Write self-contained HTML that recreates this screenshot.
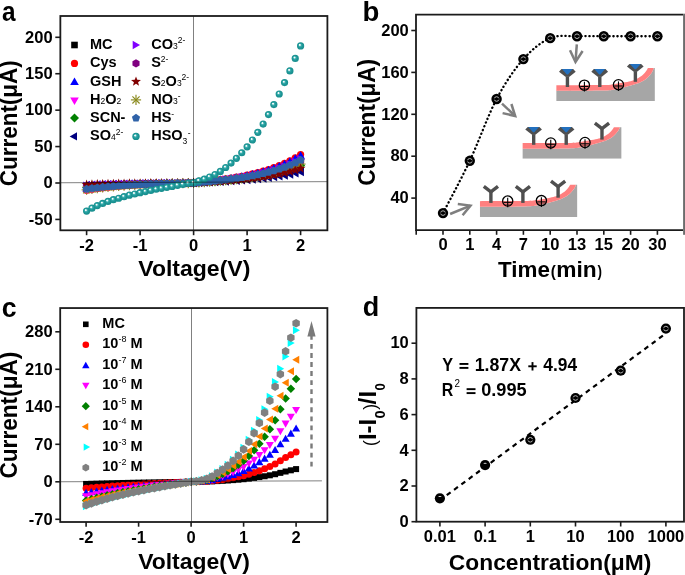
<!DOCTYPE html>
<html><head><meta charset="utf-8"><style>
html,body{margin:0;padding:0;background:#fff;}
svg{display:block;will-change:transform;}
text{font-family:"Liberation Sans", sans-serif;}
</style></head><body>
<svg width="685" height="575" viewBox="0 0 685 575">
<defs>
<radialGradient id="sph" cx="0.5" cy="0.5" r="0.5" fx="0.36" fy="0.33">
<stop offset="0" stop-color="#ffffff"/>
<stop offset="0.16" stop-color="#eef8f8"/>
<stop offset="0.36" stop-color="#3fb0b0"/>
<stop offset="0.6" stop-color="#1f9a9a"/>
<stop offset="1" stop-color="#178c8c"/>
</radialGradient>
</defs>
<rect width="685" height="575" fill="#fff"/>
<text x="1.99" y="20.60" font-size="28" font-weight="bold" textLength="13.56" lengthAdjust="spacingAndGlyphs" >a</text>
<g><rect x="83.35" y="184.12" width="6.50" height="6.50" fill="#000"/><rect x="88.70" y="183.58" width="6.50" height="6.50" fill="#000"/><rect x="94.05" y="183.11" width="6.50" height="6.50" fill="#000"/><rect x="99.40" y="182.69" width="6.50" height="6.50" fill="#000"/><rect x="104.75" y="182.32" width="6.50" height="6.50" fill="#000"/><rect x="110.10" y="182.00" width="6.50" height="6.50" fill="#000"/><rect x="115.45" y="181.71" width="6.50" height="6.50" fill="#000"/><rect x="120.80" y="181.46" width="6.50" height="6.50" fill="#000"/><rect x="126.15" y="181.23" width="6.50" height="6.50" fill="#000"/><rect x="131.50" y="181.04" width="6.50" height="6.50" fill="#000"/><rect x="136.85" y="180.86" width="6.50" height="6.50" fill="#000"/><rect x="142.20" y="180.70" width="6.50" height="6.50" fill="#000"/><rect x="147.55" y="180.56" width="6.50" height="6.50" fill="#000"/><rect x="152.90" y="180.43" width="6.50" height="6.50" fill="#000"/><rect x="158.25" y="180.31" width="6.50" height="6.50" fill="#000"/><rect x="163.60" y="180.20" width="6.50" height="6.50" fill="#000"/><rect x="168.95" y="180.11" width="6.50" height="6.50" fill="#000"/><rect x="174.30" y="180.01" width="6.50" height="6.50" fill="#000"/><rect x="179.65" y="179.92" width="6.50" height="6.50" fill="#000"/><rect x="185.00" y="179.84" width="6.50" height="6.50" fill="#000"/><rect x="190.35" y="179.75" width="6.50" height="6.50" fill="#000"/><rect x="195.70" y="179.40" width="6.50" height="6.50" fill="#000"/><rect x="201.05" y="179.04" width="6.50" height="6.50" fill="#000"/><rect x="206.40" y="178.67" width="6.50" height="6.50" fill="#000"/><rect x="211.75" y="178.29" width="6.50" height="6.50" fill="#000"/><rect x="217.10" y="177.88" width="6.50" height="6.50" fill="#000"/><rect x="222.45" y="177.45" width="6.50" height="6.50" fill="#000"/><rect x="227.80" y="176.99" width="6.50" height="6.50" fill="#000"/><rect x="233.15" y="176.48" width="6.50" height="6.50" fill="#000"/><rect x="238.50" y="175.93" width="6.50" height="6.50" fill="#000"/><rect x="243.85" y="175.32" width="6.50" height="6.50" fill="#000"/><rect x="249.20" y="174.65" width="6.50" height="6.50" fill="#000"/><rect x="254.55" y="173.91" width="6.50" height="6.50" fill="#000"/><rect x="259.90" y="173.08" width="6.50" height="6.50" fill="#000"/><rect x="265.25" y="172.16" width="6.50" height="6.50" fill="#000"/><rect x="270.60" y="171.12" width="6.50" height="6.50" fill="#000"/><rect x="275.95" y="169.97" width="6.50" height="6.50" fill="#000"/><rect x="281.30" y="168.67" width="6.50" height="6.50" fill="#000"/><rect x="286.65" y="167.21" width="6.50" height="6.50" fill="#000"/><rect x="292.00" y="165.57" width="6.50" height="6.50" fill="#000"/><rect x="297.35" y="163.72" width="6.50" height="6.50" fill="#000"/></g>
<g><circle cx="86.60" cy="190.21" r="3.60" fill="#ff0000"/><circle cx="91.95" cy="189.32" r="3.60" fill="#ff0000"/><circle cx="97.30" cy="188.54" r="3.60" fill="#ff0000"/><circle cx="102.65" cy="187.85" r="3.60" fill="#ff0000"/><circle cx="108.00" cy="187.24" r="3.60" fill="#ff0000"/><circle cx="113.35" cy="186.71" r="3.60" fill="#ff0000"/><circle cx="118.70" cy="186.24" r="3.60" fill="#ff0000"/><circle cx="124.05" cy="185.82" r="3.60" fill="#ff0000"/><circle cx="129.40" cy="185.45" r="3.60" fill="#ff0000"/><circle cx="134.75" cy="185.12" r="3.60" fill="#ff0000"/><circle cx="140.10" cy="184.83" r="3.60" fill="#ff0000"/><circle cx="145.45" cy="184.57" r="3.60" fill="#ff0000"/><circle cx="150.80" cy="184.33" r="3.60" fill="#ff0000"/><circle cx="156.15" cy="184.12" r="3.60" fill="#ff0000"/><circle cx="161.50" cy="183.93" r="3.60" fill="#ff0000"/><circle cx="166.85" cy="183.75" r="3.60" fill="#ff0000"/><circle cx="172.20" cy="183.59" r="3.60" fill="#ff0000"/><circle cx="177.55" cy="183.43" r="3.60" fill="#ff0000"/><circle cx="182.90" cy="183.28" r="3.60" fill="#ff0000"/><circle cx="188.25" cy="183.14" r="3.60" fill="#ff0000"/><circle cx="193.60" cy="183.00" r="3.60" fill="#ff0000"/><circle cx="198.95" cy="182.37" r="3.60" fill="#ff0000"/><circle cx="204.30" cy="181.74" r="3.60" fill="#ff0000"/><circle cx="209.65" cy="181.09" r="3.60" fill="#ff0000"/><circle cx="215.00" cy="180.41" r="3.60" fill="#ff0000"/><circle cx="220.35" cy="179.69" r="3.60" fill="#ff0000"/><circle cx="225.70" cy="178.93" r="3.60" fill="#ff0000"/><circle cx="231.05" cy="178.10" r="3.60" fill="#ff0000"/><circle cx="236.40" cy="177.21" r="3.60" fill="#ff0000"/><circle cx="241.75" cy="176.23" r="3.60" fill="#ff0000"/><circle cx="247.10" cy="175.15" r="3.60" fill="#ff0000"/><circle cx="252.45" cy="173.97" r="3.60" fill="#ff0000"/><circle cx="257.80" cy="172.65" r="3.60" fill="#ff0000"/><circle cx="263.15" cy="171.18" r="3.60" fill="#ff0000"/><circle cx="268.50" cy="169.54" r="3.60" fill="#ff0000"/><circle cx="273.85" cy="167.71" r="3.60" fill="#ff0000"/><circle cx="279.20" cy="165.65" r="3.60" fill="#ff0000"/><circle cx="284.55" cy="163.35" r="3.60" fill="#ff0000"/><circle cx="289.90" cy="160.76" r="3.60" fill="#ff0000"/><circle cx="295.25" cy="157.86" r="3.60" fill="#ff0000"/><circle cx="300.60" cy="154.59" r="3.60" fill="#ff0000"/></g>
<g><polygon points="86.60,183.94 90.90,191.51 82.30,191.51" fill="#0000ff" /><polygon points="91.95,183.31 96.25,190.88 87.65,190.88" fill="#0000ff" /><polygon points="97.30,182.75 101.60,190.32 93.00,190.32" fill="#0000ff" /><polygon points="102.65,182.27 106.95,189.84 98.35,189.84" fill="#0000ff" /><polygon points="108.00,181.84 112.30,189.41 103.70,189.41" fill="#0000ff" /><polygon points="113.35,181.46 117.65,189.03 109.05,189.03" fill="#0000ff" /><polygon points="118.70,181.13 123.00,188.69 114.40,188.69" fill="#0000ff" /><polygon points="124.05,180.83 128.35,188.40 119.75,188.40" fill="#0000ff" /><polygon points="129.40,180.57 133.70,188.14 125.10,188.14" fill="#0000ff" /><polygon points="134.75,180.34 139.05,187.91 130.45,187.91" fill="#0000ff" /><polygon points="140.10,180.13 144.40,187.70 135.80,187.70" fill="#0000ff" /><polygon points="145.45,179.95 149.75,187.51 141.15,187.51" fill="#0000ff" /><polygon points="150.80,179.78 155.10,187.35 146.50,187.35" fill="#0000ff" /><polygon points="156.15,179.63 160.45,187.20 151.85,187.20" fill="#0000ff" /><polygon points="161.50,179.49 165.80,187.06 157.20,187.06" fill="#0000ff" /><polygon points="166.85,179.37 171.15,186.94 162.55,186.94" fill="#0000ff" /><polygon points="172.20,179.25 176.50,186.82 167.90,186.82" fill="#0000ff" /><polygon points="177.55,179.14 181.85,186.71 173.25,186.71" fill="#0000ff" /><polygon points="182.90,179.04 187.20,186.61 178.60,186.61" fill="#0000ff" /><polygon points="188.25,178.94 192.55,186.50 183.95,186.50" fill="#0000ff" /><polygon points="193.60,178.84 197.90,186.41 189.30,186.41" fill="#0000ff" /><polygon points="198.95,178.23 203.25,185.80 194.65,185.80" fill="#0000ff" /><polygon points="204.30,177.61 208.60,185.18 200.00,185.18" fill="#0000ff" /><polygon points="209.65,176.97 213.95,184.54 205.35,184.54" fill="#0000ff" /><polygon points="215.00,176.31 219.30,183.88 210.70,183.88" fill="#0000ff" /><polygon points="220.35,175.61 224.65,183.18 216.05,183.18" fill="#0000ff" /><polygon points="225.70,174.87 230.00,182.44 221.40,182.44" fill="#0000ff" /><polygon points="231.05,174.07 235.35,181.63 226.75,181.63" fill="#0000ff" /><polygon points="236.40,173.19 240.70,180.76 232.10,180.76" fill="#0000ff" /><polygon points="241.75,172.24 246.05,179.81 237.45,179.81" fill="#0000ff" /><polygon points="247.10,171.19 251.40,178.76 242.80,178.76" fill="#0000ff" /><polygon points="252.45,170.04 256.75,177.60 248.15,177.60" fill="#0000ff" /><polygon points="257.80,168.75 262.10,176.32 253.50,176.32" fill="#0000ff" /><polygon points="263.15,167.32 267.45,174.89 258.85,174.89" fill="#0000ff" /><polygon points="268.50,165.72 272.80,173.29 264.20,173.29" fill="#0000ff" /><polygon points="273.85,163.94 278.15,171.51 269.55,171.51" fill="#0000ff" /><polygon points="279.20,161.94 283.50,169.50 274.90,169.50" fill="#0000ff" /><polygon points="284.55,159.69 288.85,167.26 280.25,167.26" fill="#0000ff" /><polygon points="289.90,157.17 294.20,164.74 285.60,164.74" fill="#0000ff" /><polygon points="295.25,154.34 299.55,161.91 290.95,161.91" fill="#0000ff" /><polygon points="300.60,151.15 304.90,158.72 296.30,158.72" fill="#0000ff" /></g>
<g><polygon points="86.60,194.67 90.90,187.10 82.30,187.10" fill="#ff00ff" /><polygon points="91.95,193.74 96.25,186.17 87.65,186.17" fill="#ff00ff" /><polygon points="97.30,192.93 101.60,185.36 93.00,185.36" fill="#ff00ff" /><polygon points="102.65,192.21 106.95,184.64 98.35,184.64" fill="#ff00ff" /><polygon points="108.00,191.58 112.30,184.01 103.70,184.01" fill="#ff00ff" /><polygon points="113.35,191.02 117.65,183.45 109.05,183.45" fill="#ff00ff" /><polygon points="118.70,190.53 123.00,182.96 114.40,182.96" fill="#ff00ff" /><polygon points="124.05,190.10 128.35,182.53 119.75,182.53" fill="#ff00ff" /><polygon points="129.40,189.71 133.70,182.14 125.10,182.14" fill="#ff00ff" /><polygon points="134.75,189.37 139.05,181.80 130.45,181.80" fill="#ff00ff" /><polygon points="140.10,189.07 144.40,181.50 135.80,181.50" fill="#ff00ff" /><polygon points="145.45,188.79 149.75,181.23 141.15,181.23" fill="#ff00ff" /><polygon points="150.80,188.55 155.10,180.98 146.50,180.98" fill="#ff00ff" /><polygon points="156.15,188.33 160.45,180.76 151.85,180.76" fill="#ff00ff" /><polygon points="161.50,188.13 165.80,180.56 157.20,180.56" fill="#ff00ff" /><polygon points="166.85,187.94 171.15,180.38 162.55,180.38" fill="#ff00ff" /><polygon points="172.20,187.77 176.50,180.20 167.90,180.20" fill="#ff00ff" /><polygon points="177.55,187.61 181.85,180.04 173.25,180.04" fill="#ff00ff" /><polygon points="182.90,187.46 187.20,179.89 178.60,179.89" fill="#ff00ff" /><polygon points="188.25,187.31 192.55,179.74 183.95,179.74" fill="#ff00ff" /><polygon points="193.60,187.16 197.90,179.59 189.30,179.59" fill="#ff00ff" /><polygon points="198.95,186.70 203.25,179.13 194.65,179.13" fill="#ff00ff" /><polygon points="204.30,186.23 208.60,178.66 200.00,178.66" fill="#ff00ff" /><polygon points="209.65,185.74 213.95,178.17 205.35,178.17" fill="#ff00ff" /><polygon points="215.00,185.24 219.30,177.67 210.70,177.67" fill="#ff00ff" /><polygon points="220.35,184.70 224.65,177.13 216.05,177.13" fill="#ff00ff" /><polygon points="225.70,184.13 230.00,176.56 221.40,176.56" fill="#ff00ff" /><polygon points="231.05,183.52 235.35,175.95 226.75,175.95" fill="#ff00ff" /><polygon points="236.40,182.86 240.70,175.29 232.10,175.29" fill="#ff00ff" /><polygon points="241.75,182.13 246.05,174.56 237.45,174.56" fill="#ff00ff" /><polygon points="247.10,181.33 251.40,173.76 242.80,173.76" fill="#ff00ff" /><polygon points="252.45,180.44 256.75,172.88 248.15,172.88" fill="#ff00ff" /><polygon points="257.80,179.46 262.10,171.90 253.50,171.90" fill="#ff00ff" /><polygon points="263.15,178.37 267.45,170.80 258.85,170.80" fill="#ff00ff" /><polygon points="268.50,177.15 272.80,169.59 264.20,169.59" fill="#ff00ff" /><polygon points="273.85,175.79 278.15,168.22 269.55,168.22" fill="#ff00ff" /><polygon points="279.20,174.26 283.50,166.70 274.90,166.70" fill="#ff00ff" /><polygon points="284.55,172.55 288.85,164.98 280.25,164.98" fill="#ff00ff" /><polygon points="289.90,170.63 294.20,163.06 285.60,163.06" fill="#ff00ff" /><polygon points="295.25,168.47 299.55,160.90 290.95,160.90" fill="#ff00ff" /><polygon points="300.60,166.04 304.90,158.47 296.30,158.47" fill="#ff00ff" /></g>
<g><polygon points="86.60,182.87 91.10,187.37 86.60,191.87 82.10,187.37" fill="#008000" /><polygon points="91.95,182.33 96.45,186.83 91.95,191.33 87.45,186.83" fill="#008000" /><polygon points="97.30,181.86 101.80,186.36 97.30,190.86 92.80,186.36" fill="#008000" /><polygon points="102.65,181.44 107.15,185.94 102.65,190.44 98.15,185.94" fill="#008000" /><polygon points="108.00,181.07 112.50,185.57 108.00,190.07 103.50,185.57" fill="#008000" /><polygon points="113.35,180.75 117.85,185.25 113.35,189.75 108.85,185.25" fill="#008000" /><polygon points="118.70,180.46 123.20,184.96 118.70,189.46 114.20,184.96" fill="#008000" /><polygon points="124.05,180.21 128.55,184.71 124.05,189.21 119.55,184.71" fill="#008000" /><polygon points="129.40,179.98 133.90,184.48 129.40,188.98 124.90,184.48" fill="#008000" /><polygon points="134.75,179.79 139.25,184.29 134.75,188.79 130.25,184.29" fill="#008000" /><polygon points="140.10,179.61 144.60,184.11 140.10,188.61 135.60,184.11" fill="#008000" /><polygon points="145.45,179.45 149.95,183.95 145.45,188.45 140.95,183.95" fill="#008000" /><polygon points="150.80,179.31 155.30,183.81 150.80,188.31 146.30,183.81" fill="#008000" /><polygon points="156.15,179.18 160.65,183.68 156.15,188.18 151.65,183.68" fill="#008000" /><polygon points="161.50,179.06 166.00,183.56 161.50,188.06 157.00,183.56" fill="#008000" /><polygon points="166.85,178.95 171.35,183.45 166.85,187.95 162.35,183.45" fill="#008000" /><polygon points="172.20,178.86 176.70,183.36 172.20,187.86 167.70,183.36" fill="#008000" /><polygon points="177.55,178.76 182.05,183.26 177.55,187.76 173.05,183.26" fill="#008000" /><polygon points="182.90,178.67 187.40,183.17 182.90,187.67 178.40,183.17" fill="#008000" /><polygon points="188.25,178.59 192.75,183.09 188.25,187.59 183.75,183.09" fill="#008000" /><polygon points="193.60,178.50 198.10,183.00 193.60,187.50 189.10,183.00" fill="#008000" /><polygon points="198.95,178.12 203.45,182.62 198.95,187.12 194.45,182.62" fill="#008000" /><polygon points="204.30,177.72 208.80,182.22 204.30,186.72 199.80,182.22" fill="#008000" /><polygon points="209.65,177.32 214.15,181.82 209.65,186.32 205.15,181.82" fill="#008000" /><polygon points="215.00,176.91 219.50,181.41 215.00,185.91 210.50,181.41" fill="#008000" /><polygon points="220.35,176.46 224.85,180.96 220.35,185.46 215.85,180.96" fill="#008000" /><polygon points="225.70,175.99 230.20,180.49 225.70,184.99 221.20,180.49" fill="#008000" /><polygon points="231.05,175.49 235.55,179.99 231.05,184.49 226.55,179.99" fill="#008000" /><polygon points="236.40,174.94 240.90,179.44 236.40,183.94 231.90,179.44" fill="#008000" /><polygon points="241.75,174.33 246.25,178.83 241.75,183.33 237.25,178.83" fill="#008000" /><polygon points="247.10,173.67 251.60,178.17 247.10,182.67 242.60,178.17" fill="#008000" /><polygon points="252.45,172.94 256.95,177.44 252.45,181.94 247.95,177.44" fill="#008000" /><polygon points="257.80,172.13 262.30,176.63 257.80,181.13 253.30,176.63" fill="#008000" /><polygon points="263.15,171.23 267.65,175.73 263.15,180.23 258.65,175.73" fill="#008000" /><polygon points="268.50,170.22 273.00,174.72 268.50,179.22 264.00,174.72" fill="#008000" /><polygon points="273.85,169.09 278.35,173.59 273.85,178.09 269.35,173.59" fill="#008000" /><polygon points="279.20,167.83 283.70,172.33 279.20,176.83 274.70,172.33" fill="#008000" /><polygon points="284.55,166.41 289.05,170.91 284.55,175.41 280.05,170.91" fill="#008000" /><polygon points="289.90,164.82 294.40,169.32 289.90,173.82 285.40,169.32" fill="#008000" /><polygon points="295.25,163.03 299.75,167.53 295.25,172.03 290.75,167.53" fill="#008000" /><polygon points="300.60,161.02 305.10,165.52 300.60,170.02 296.10,165.52" fill="#008000" /></g>
<g><polygon points="82.53,185.04 89.93,180.84 89.93,189.24" fill="#000080" /><polygon points="87.88,184.79 95.28,180.59 95.28,188.99" fill="#000080" /><polygon points="93.23,184.57 100.63,180.37 100.63,188.77" fill="#000080" /><polygon points="98.58,184.37 105.98,180.17 105.98,188.57" fill="#000080" /><polygon points="103.93,184.20 111.33,180.00 111.33,188.40" fill="#000080" /><polygon points="109.28,184.05 116.68,179.85 116.68,188.25" fill="#000080" /><polygon points="114.63,183.92 122.03,179.72 122.03,188.12" fill="#000080" /><polygon points="119.98,183.80 127.38,179.60 127.38,188.00" fill="#000080" /><polygon points="125.33,183.69 132.73,179.49 132.73,187.89" fill="#000080" /><polygon points="130.68,183.60 138.08,179.40 138.08,187.80" fill="#000080" /><polygon points="136.03,183.52 143.43,179.32 143.43,187.72" fill="#000080" /><polygon points="141.38,183.44 148.78,179.24 148.78,187.64" fill="#000080" /><polygon points="146.73,183.38 154.13,179.18 154.13,187.58" fill="#000080" /><polygon points="152.08,183.32 159.48,179.12 159.48,187.52" fill="#000080" /><polygon points="157.43,183.26 164.83,179.06 164.83,187.46" fill="#000080" /><polygon points="162.78,183.21 170.18,179.01 170.18,187.41" fill="#000080" /><polygon points="168.13,183.17 175.53,178.97 175.53,187.37" fill="#000080" /><polygon points="173.48,183.12 180.88,178.92 180.88,187.32" fill="#000080" /><polygon points="178.83,183.08 186.23,178.88 186.23,187.28" fill="#000080" /><polygon points="184.18,183.04 191.58,178.84 191.58,187.24" fill="#000080" /><polygon points="189.53,183.00 196.93,178.80 196.93,187.20" fill="#000080" /><polygon points="194.88,182.76 202.28,178.56 202.28,186.96" fill="#000080" /><polygon points="200.23,182.52 207.63,178.32 207.63,186.72" fill="#000080" /><polygon points="205.58,182.26 212.98,178.06 212.98,186.46" fill="#000080" /><polygon points="210.93,182.00 218.33,177.80 218.33,186.20" fill="#000080" /><polygon points="216.28,181.73 223.68,177.53 223.68,185.93" fill="#000080" /><polygon points="221.63,181.43 229.03,177.23 229.03,185.63" fill="#000080" /><polygon points="226.98,181.12 234.38,176.92 234.38,185.32" fill="#000080" /><polygon points="232.33,180.77 239.73,176.57 239.73,184.97" fill="#000080" /><polygon points="237.68,180.40 245.08,176.20 245.08,184.60" fill="#000080" /><polygon points="243.03,179.98 250.43,175.78 250.43,184.18" fill="#000080" /><polygon points="248.38,179.53 255.78,175.33 255.78,183.73" fill="#000080" /><polygon points="253.73,179.02 261.13,174.82 261.13,183.22" fill="#000080" /><polygon points="259.08,178.45 266.48,174.25 266.48,182.65" fill="#000080" /><polygon points="264.43,177.82 271.83,173.62 271.83,182.02" fill="#000080" /><polygon points="269.78,177.12 277.18,172.92 277.18,181.32" fill="#000080" /><polygon points="275.13,176.33 282.53,172.13 282.53,180.53" fill="#000080" /><polygon points="280.48,175.44 287.88,171.24 287.88,179.64" fill="#000080" /><polygon points="285.83,174.45 293.23,170.25 293.23,178.65" fill="#000080" /><polygon points="291.18,173.33 298.58,169.13 298.58,177.53" fill="#000080" /><polygon points="296.53,172.07 303.93,167.87 303.93,176.27" fill="#000080" /></g>
<g><polygon points="90.67,185.62 83.27,181.42 83.27,189.82" fill="#8000ff" /><polygon points="96.02,185.30 88.62,181.10 88.62,189.50" fill="#8000ff" /><polygon points="101.37,185.01 93.97,180.81 93.97,189.21" fill="#8000ff" /><polygon points="106.72,184.76 99.32,180.56 99.32,188.96" fill="#8000ff" /><polygon points="112.07,184.54 104.67,180.34 104.67,188.74" fill="#8000ff" /><polygon points="117.42,184.35 110.02,180.15 110.02,188.55" fill="#8000ff" /><polygon points="122.77,184.18 115.37,179.98 115.37,188.38" fill="#8000ff" /><polygon points="128.12,184.03 120.72,179.83 120.72,188.23" fill="#8000ff" /><polygon points="133.47,183.89 126.07,179.69 126.07,188.09" fill="#8000ff" /><polygon points="138.82,183.77 131.42,179.57 131.42,187.97" fill="#8000ff" /><polygon points="144.17,183.67 136.77,179.47 136.77,187.87" fill="#8000ff" /><polygon points="149.52,183.57 142.12,179.37 142.12,187.77" fill="#8000ff" /><polygon points="154.87,183.48 147.47,179.28 147.47,187.68" fill="#8000ff" /><polygon points="160.22,183.41 152.82,179.21 152.82,187.61" fill="#8000ff" /><polygon points="165.57,183.34 158.17,179.14 158.17,187.54" fill="#8000ff" /><polygon points="170.92,183.27 163.52,179.07 163.52,187.47" fill="#8000ff" /><polygon points="176.27,183.21 168.87,179.01 168.87,187.41" fill="#8000ff" /><polygon points="181.62,183.16 174.22,178.96 174.22,187.36" fill="#8000ff" /><polygon points="186.97,183.10 179.57,178.90 179.57,187.30" fill="#8000ff" /><polygon points="192.32,183.05 184.92,178.85 184.92,187.25" fill="#8000ff" /><polygon points="197.67,183.00 190.27,178.80 190.27,187.20" fill="#8000ff" /><polygon points="203.02,182.47 195.62,178.27 195.62,186.67" fill="#8000ff" /><polygon points="208.37,181.93 200.97,177.73 200.97,186.13" fill="#8000ff" /><polygon points="213.72,181.38 206.32,177.18 206.32,185.58" fill="#8000ff" /><polygon points="219.07,180.81 211.67,176.61 211.67,185.01" fill="#8000ff" /><polygon points="224.42,180.20 217.02,176.00 217.02,184.40" fill="#8000ff" /><polygon points="229.77,179.55 222.37,175.35 222.37,183.75" fill="#8000ff" /><polygon points="235.12,178.86 227.72,174.66 227.72,183.06" fill="#8000ff" /><polygon points="240.47,178.10 233.07,173.90 233.07,182.30" fill="#8000ff" /><polygon points="245.82,177.27 238.42,173.07 238.42,181.47" fill="#8000ff" /><polygon points="251.17,176.36 243.77,172.16 243.77,180.56" fill="#8000ff" /><polygon points="256.52,175.36 249.12,171.16 249.12,179.56" fill="#8000ff" /><polygon points="261.87,174.24 254.47,170.04 254.47,178.44" fill="#8000ff" /><polygon points="267.22,173.00 259.82,168.80 259.82,177.20" fill="#8000ff" /><polygon points="272.57,171.61 265.17,167.41 265.17,175.81" fill="#8000ff" /><polygon points="277.92,170.06 270.52,165.86 270.52,174.26" fill="#8000ff" /><polygon points="283.27,168.32 275.87,164.12 275.87,172.52" fill="#8000ff" /><polygon points="288.62,166.37 281.22,162.17 281.22,170.57" fill="#8000ff" /><polygon points="293.97,164.19 286.57,159.99 286.57,168.39" fill="#8000ff" /><polygon points="299.32,161.73 291.92,157.53 291.92,165.93" fill="#8000ff" /><polygon points="304.67,158.96 297.27,154.76 297.27,163.16" fill="#8000ff" /></g>
<g><polygon points="86.60,182.54 90.15,184.59 90.15,188.69 86.60,190.74 83.05,188.69 83.05,184.59" fill="#800080" /><polygon points="91.95,182.09 95.50,184.14 95.50,188.24 91.95,190.29 88.40,188.24 88.40,184.14" fill="#800080" /><polygon points="97.30,181.70 100.85,183.75 100.85,187.85 97.30,189.90 93.75,187.85 93.75,183.75" fill="#800080" /><polygon points="102.65,181.35 106.20,183.40 106.20,187.50 102.65,189.55 99.10,187.50 99.10,183.40" fill="#800080" /><polygon points="108.00,181.04 111.55,183.09 111.55,187.19 108.00,189.24 104.45,187.19 104.45,183.09" fill="#800080" /><polygon points="113.35,180.77 116.90,182.82 116.90,186.92 113.35,188.97 109.80,186.92 109.80,182.82" fill="#800080" /><polygon points="118.70,180.53 122.25,182.58 122.25,186.68 118.70,188.73 115.15,186.68 115.15,182.58" fill="#800080" /><polygon points="124.05,180.32 127.60,182.37 127.60,186.47 124.05,188.52 120.50,186.47 120.50,182.37" fill="#800080" /><polygon points="129.40,180.14 132.95,182.19 132.95,186.29 129.40,188.34 125.85,186.29 125.85,182.19" fill="#800080" /><polygon points="134.75,179.97 138.30,182.02 138.30,186.12 134.75,188.17 131.20,186.12 131.20,182.02" fill="#800080" /><polygon points="140.10,179.82 143.65,181.87 143.65,185.97 140.10,188.02 136.55,185.97 136.55,181.87" fill="#800080" /><polygon points="145.45,179.69 149.00,181.74 149.00,185.84 145.45,187.89 141.90,185.84 141.90,181.74" fill="#800080" /><polygon points="150.80,179.57 154.35,181.62 154.35,185.72 150.80,187.77 147.25,185.72 147.25,181.62" fill="#800080" /><polygon points="156.15,179.47 159.70,181.52 159.70,185.62 156.15,187.67 152.60,185.62 152.60,181.52" fill="#800080" /><polygon points="161.50,179.37 165.05,181.42 165.05,185.52 161.50,187.57 157.95,185.52 157.95,181.42" fill="#800080" /><polygon points="166.85,179.28 170.40,181.33 170.40,185.43 166.85,187.48 163.30,185.43 163.30,181.33" fill="#800080" /><polygon points="172.20,179.20 175.75,181.25 175.75,185.35 172.20,187.40 168.65,185.35 168.65,181.25" fill="#800080" /><polygon points="177.55,179.12 181.10,181.17 181.10,185.27 177.55,187.32 174.00,185.27 174.00,181.17" fill="#800080" /><polygon points="182.90,179.04 186.45,181.09 186.45,185.19 182.90,187.24 179.35,185.19 179.35,181.09" fill="#800080" /><polygon points="188.25,178.97 191.80,181.02 191.80,185.12 188.25,187.17 184.70,185.12 184.70,181.02" fill="#800080" /><polygon points="193.60,178.90 197.15,180.95 197.15,185.05 193.60,187.10 190.05,185.05 190.05,180.95" fill="#800080" /><polygon points="198.95,178.42 202.50,180.47 202.50,184.57 198.95,186.62 195.40,184.57 195.40,180.47" fill="#800080" /><polygon points="204.30,177.93 207.85,179.98 207.85,184.08 204.30,186.13 200.75,184.08 200.75,179.98" fill="#800080" /><polygon points="209.65,177.43 213.20,179.48 213.20,183.58 209.65,185.63 206.10,183.58 206.10,179.48" fill="#800080" /><polygon points="215.00,176.91 218.55,178.96 218.55,183.06 215.00,185.11 211.45,183.06 211.45,178.96" fill="#800080" /><polygon points="220.35,176.35 223.90,178.40 223.90,182.50 220.35,184.55 216.80,182.50 216.80,178.40" fill="#800080" /><polygon points="225.70,175.77 229.25,177.82 229.25,181.92 225.70,183.97 222.15,181.92 222.15,177.82" fill="#800080" /><polygon points="231.05,175.13 234.60,177.18 234.60,181.28 231.05,183.33 227.50,181.28 227.50,177.18" fill="#800080" /><polygon points="236.40,174.44 239.95,176.49 239.95,180.59 236.40,182.64 232.85,180.59 232.85,176.49" fill="#800080" /><polygon points="241.75,173.69 245.30,175.74 245.30,179.84 241.75,181.89 238.20,179.84 238.20,175.74" fill="#800080" /><polygon points="247.10,172.86 250.65,174.91 250.65,179.01 247.10,181.06 243.55,179.01 243.55,174.91" fill="#800080" /><polygon points="252.45,171.95 256.00,174.00 256.00,178.10 252.45,180.15 248.90,178.10 248.90,174.00" fill="#800080" /><polygon points="257.80,170.94 261.35,172.99 261.35,177.09 257.80,179.14 254.25,177.09 254.25,172.99" fill="#800080" /><polygon points="263.15,169.81 266.70,171.86 266.70,175.96 263.15,178.01 259.60,175.96 259.60,171.86" fill="#800080" /><polygon points="268.50,168.55 272.05,170.60 272.05,174.70 268.50,176.75 264.95,174.70 264.95,170.60" fill="#800080" /><polygon points="273.85,167.14 277.40,169.19 277.40,173.29 273.85,175.34 270.30,173.29 270.30,169.19" fill="#800080" /><polygon points="279.20,165.56 282.75,167.61 282.75,171.71 279.20,173.76 275.65,171.71 275.65,167.61" fill="#800080" /><polygon points="284.55,163.79 288.10,165.84 288.10,169.94 284.55,171.99 281.00,169.94 281.00,165.84" fill="#800080" /><polygon points="289.90,161.80 293.45,163.85 293.45,167.95 289.90,170.00 286.35,167.95 286.35,163.85" fill="#800080" /><polygon points="295.25,159.56 298.80,161.61 298.80,165.71 295.25,167.76 291.70,165.71 291.70,161.61" fill="#800080" /><polygon points="300.60,157.05 304.15,159.09 304.15,163.20 300.60,165.25 297.05,163.20 297.05,159.09" fill="#800080" /></g>
<g><line x1="81.60" y1="189.85" x2="91.60" y2="189.85" stroke="#8a8a1e" stroke-width="1.1"/><line x1="83.06" y1="186.31" x2="90.14" y2="193.38" stroke="#8a8a1e" stroke-width="1.1"/><line x1="86.60" y1="184.85" x2="86.60" y2="194.85" stroke="#8a8a1e" stroke-width="1.1"/><line x1="90.14" y1="186.31" x2="83.06" y2="193.38" stroke="#8a8a1e" stroke-width="1.1"/><line x1="86.95" y1="189.00" x2="96.95" y2="189.00" stroke="#8a8a1e" stroke-width="1.1"/><line x1="88.41" y1="185.47" x2="95.49" y2="192.54" stroke="#8a8a1e" stroke-width="1.1"/><line x1="91.95" y1="184.00" x2="91.95" y2="194.00" stroke="#8a8a1e" stroke-width="1.1"/><line x1="95.49" y1="185.47" x2="88.41" y2="192.54" stroke="#8a8a1e" stroke-width="1.1"/><line x1="92.30" y1="188.26" x2="102.30" y2="188.26" stroke="#8a8a1e" stroke-width="1.1"/><line x1="93.76" y1="184.72" x2="100.84" y2="191.80" stroke="#8a8a1e" stroke-width="1.1"/><line x1="97.30" y1="183.26" x2="97.30" y2="193.26" stroke="#8a8a1e" stroke-width="1.1"/><line x1="100.84" y1="184.72" x2="93.76" y2="191.80" stroke="#8a8a1e" stroke-width="1.1"/><line x1="97.65" y1="187.61" x2="107.65" y2="187.61" stroke="#8a8a1e" stroke-width="1.1"/><line x1="99.11" y1="184.07" x2="106.19" y2="191.14" stroke="#8a8a1e" stroke-width="1.1"/><line x1="102.65" y1="182.61" x2="102.65" y2="192.61" stroke="#8a8a1e" stroke-width="1.1"/><line x1="106.19" y1="184.07" x2="99.11" y2="191.14" stroke="#8a8a1e" stroke-width="1.1"/><line x1="103.00" y1="187.03" x2="113.00" y2="187.03" stroke="#8a8a1e" stroke-width="1.1"/><line x1="104.46" y1="183.49" x2="111.54" y2="190.57" stroke="#8a8a1e" stroke-width="1.1"/><line x1="108.00" y1="182.03" x2="108.00" y2="192.03" stroke="#8a8a1e" stroke-width="1.1"/><line x1="111.54" y1="183.49" x2="104.46" y2="190.57" stroke="#8a8a1e" stroke-width="1.1"/><line x1="108.35" y1="186.52" x2="118.35" y2="186.52" stroke="#8a8a1e" stroke-width="1.1"/><line x1="109.81" y1="182.99" x2="116.89" y2="190.06" stroke="#8a8a1e" stroke-width="1.1"/><line x1="113.35" y1="181.52" x2="113.35" y2="191.52" stroke="#8a8a1e" stroke-width="1.1"/><line x1="116.89" y1="182.99" x2="109.81" y2="190.06" stroke="#8a8a1e" stroke-width="1.1"/><line x1="113.70" y1="186.07" x2="123.70" y2="186.07" stroke="#8a8a1e" stroke-width="1.1"/><line x1="115.16" y1="182.54" x2="122.24" y2="189.61" stroke="#8a8a1e" stroke-width="1.1"/><line x1="118.70" y1="181.07" x2="118.70" y2="191.07" stroke="#8a8a1e" stroke-width="1.1"/><line x1="122.24" y1="182.54" x2="115.16" y2="189.61" stroke="#8a8a1e" stroke-width="1.1"/><line x1="119.05" y1="185.68" x2="129.05" y2="185.68" stroke="#8a8a1e" stroke-width="1.1"/><line x1="120.51" y1="182.14" x2="127.59" y2="189.21" stroke="#8a8a1e" stroke-width="1.1"/><line x1="124.05" y1="180.68" x2="124.05" y2="190.68" stroke="#8a8a1e" stroke-width="1.1"/><line x1="127.59" y1="182.14" x2="120.51" y2="189.21" stroke="#8a8a1e" stroke-width="1.1"/><line x1="124.40" y1="185.33" x2="134.40" y2="185.33" stroke="#8a8a1e" stroke-width="1.1"/><line x1="125.86" y1="181.79" x2="132.94" y2="188.86" stroke="#8a8a1e" stroke-width="1.1"/><line x1="129.40" y1="180.33" x2="129.40" y2="190.33" stroke="#8a8a1e" stroke-width="1.1"/><line x1="132.94" y1="181.79" x2="125.86" y2="188.86" stroke="#8a8a1e" stroke-width="1.1"/><line x1="129.75" y1="185.01" x2="139.75" y2="185.01" stroke="#8a8a1e" stroke-width="1.1"/><line x1="131.21" y1="181.48" x2="138.29" y2="188.55" stroke="#8a8a1e" stroke-width="1.1"/><line x1="134.75" y1="180.01" x2="134.75" y2="190.01" stroke="#8a8a1e" stroke-width="1.1"/><line x1="138.29" y1="181.48" x2="131.21" y2="188.55" stroke="#8a8a1e" stroke-width="1.1"/><line x1="135.10" y1="184.74" x2="145.10" y2="184.74" stroke="#8a8a1e" stroke-width="1.1"/><line x1="136.56" y1="181.20" x2="143.64" y2="188.27" stroke="#8a8a1e" stroke-width="1.1"/><line x1="140.10" y1="179.74" x2="140.10" y2="189.74" stroke="#8a8a1e" stroke-width="1.1"/><line x1="143.64" y1="181.20" x2="136.56" y2="188.27" stroke="#8a8a1e" stroke-width="1.1"/><line x1="140.45" y1="184.49" x2="150.45" y2="184.49" stroke="#8a8a1e" stroke-width="1.1"/><line x1="141.91" y1="180.95" x2="148.99" y2="188.02" stroke="#8a8a1e" stroke-width="1.1"/><line x1="145.45" y1="179.49" x2="145.45" y2="189.49" stroke="#8a8a1e" stroke-width="1.1"/><line x1="148.99" y1="180.95" x2="141.91" y2="188.02" stroke="#8a8a1e" stroke-width="1.1"/><line x1="145.80" y1="184.27" x2="155.80" y2="184.27" stroke="#8a8a1e" stroke-width="1.1"/><line x1="147.26" y1="180.73" x2="154.34" y2="187.80" stroke="#8a8a1e" stroke-width="1.1"/><line x1="150.80" y1="179.27" x2="150.80" y2="189.27" stroke="#8a8a1e" stroke-width="1.1"/><line x1="154.34" y1="180.73" x2="147.26" y2="187.80" stroke="#8a8a1e" stroke-width="1.1"/><line x1="151.15" y1="184.06" x2="161.15" y2="184.06" stroke="#8a8a1e" stroke-width="1.1"/><line x1="152.61" y1="180.53" x2="159.69" y2="187.60" stroke="#8a8a1e" stroke-width="1.1"/><line x1="156.15" y1="179.06" x2="156.15" y2="189.06" stroke="#8a8a1e" stroke-width="1.1"/><line x1="159.69" y1="180.53" x2="152.61" y2="187.60" stroke="#8a8a1e" stroke-width="1.1"/><line x1="156.50" y1="183.88" x2="166.50" y2="183.88" stroke="#8a8a1e" stroke-width="1.1"/><line x1="157.96" y1="180.35" x2="165.04" y2="187.42" stroke="#8a8a1e" stroke-width="1.1"/><line x1="161.50" y1="178.88" x2="161.50" y2="188.88" stroke="#8a8a1e" stroke-width="1.1"/><line x1="165.04" y1="180.35" x2="157.96" y2="187.42" stroke="#8a8a1e" stroke-width="1.1"/><line x1="161.85" y1="183.71" x2="171.85" y2="183.71" stroke="#8a8a1e" stroke-width="1.1"/><line x1="163.31" y1="180.18" x2="170.39" y2="187.25" stroke="#8a8a1e" stroke-width="1.1"/><line x1="166.85" y1="178.71" x2="166.85" y2="188.71" stroke="#8a8a1e" stroke-width="1.1"/><line x1="170.39" y1="180.18" x2="163.31" y2="187.25" stroke="#8a8a1e" stroke-width="1.1"/><line x1="167.20" y1="183.56" x2="177.20" y2="183.56" stroke="#8a8a1e" stroke-width="1.1"/><line x1="168.66" y1="180.02" x2="175.74" y2="187.09" stroke="#8a8a1e" stroke-width="1.1"/><line x1="172.20" y1="178.56" x2="172.20" y2="188.56" stroke="#8a8a1e" stroke-width="1.1"/><line x1="175.74" y1="180.02" x2="168.66" y2="187.09" stroke="#8a8a1e" stroke-width="1.1"/><line x1="172.55" y1="183.41" x2="182.55" y2="183.41" stroke="#8a8a1e" stroke-width="1.1"/><line x1="174.01" y1="179.87" x2="181.09" y2="186.94" stroke="#8a8a1e" stroke-width="1.1"/><line x1="177.55" y1="178.41" x2="177.55" y2="188.41" stroke="#8a8a1e" stroke-width="1.1"/><line x1="181.09" y1="179.87" x2="174.01" y2="186.94" stroke="#8a8a1e" stroke-width="1.1"/><line x1="177.90" y1="183.27" x2="187.90" y2="183.27" stroke="#8a8a1e" stroke-width="1.1"/><line x1="179.36" y1="179.73" x2="186.44" y2="186.80" stroke="#8a8a1e" stroke-width="1.1"/><line x1="182.90" y1="178.27" x2="182.90" y2="188.27" stroke="#8a8a1e" stroke-width="1.1"/><line x1="186.44" y1="179.73" x2="179.36" y2="186.80" stroke="#8a8a1e" stroke-width="1.1"/><line x1="183.25" y1="183.13" x2="193.25" y2="183.13" stroke="#8a8a1e" stroke-width="1.1"/><line x1="184.71" y1="179.60" x2="191.79" y2="186.67" stroke="#8a8a1e" stroke-width="1.1"/><line x1="188.25" y1="178.13" x2="188.25" y2="188.13" stroke="#8a8a1e" stroke-width="1.1"/><line x1="191.79" y1="179.60" x2="184.71" y2="186.67" stroke="#8a8a1e" stroke-width="1.1"/><line x1="188.60" y1="183.00" x2="198.60" y2="183.00" stroke="#8a8a1e" stroke-width="1.1"/><line x1="190.06" y1="179.46" x2="197.14" y2="186.54" stroke="#8a8a1e" stroke-width="1.1"/><line x1="193.60" y1="178.00" x2="193.60" y2="188.00" stroke="#8a8a1e" stroke-width="1.1"/><line x1="197.14" y1="179.46" x2="190.06" y2="186.54" stroke="#8a8a1e" stroke-width="1.1"/><line x1="193.95" y1="182.58" x2="203.95" y2="182.58" stroke="#8a8a1e" stroke-width="1.1"/><line x1="195.41" y1="179.05" x2="202.49" y2="186.12" stroke="#8a8a1e" stroke-width="1.1"/><line x1="198.95" y1="177.58" x2="198.95" y2="187.58" stroke="#8a8a1e" stroke-width="1.1"/><line x1="202.49" y1="179.05" x2="195.41" y2="186.12" stroke="#8a8a1e" stroke-width="1.1"/><line x1="199.30" y1="182.16" x2="209.30" y2="182.16" stroke="#8a8a1e" stroke-width="1.1"/><line x1="200.76" y1="178.62" x2="207.84" y2="185.70" stroke="#8a8a1e" stroke-width="1.1"/><line x1="204.30" y1="177.16" x2="204.30" y2="187.16" stroke="#8a8a1e" stroke-width="1.1"/><line x1="207.84" y1="178.62" x2="200.76" y2="185.70" stroke="#8a8a1e" stroke-width="1.1"/><line x1="204.65" y1="181.73" x2="214.65" y2="181.73" stroke="#8a8a1e" stroke-width="1.1"/><line x1="206.11" y1="178.19" x2="213.19" y2="185.26" stroke="#8a8a1e" stroke-width="1.1"/><line x1="209.65" y1="176.73" x2="209.65" y2="186.73" stroke="#8a8a1e" stroke-width="1.1"/><line x1="213.19" y1="178.19" x2="206.11" y2="185.26" stroke="#8a8a1e" stroke-width="1.1"/><line x1="210.00" y1="181.27" x2="220.00" y2="181.27" stroke="#8a8a1e" stroke-width="1.1"/><line x1="211.46" y1="177.74" x2="218.54" y2="184.81" stroke="#8a8a1e" stroke-width="1.1"/><line x1="215.00" y1="176.27" x2="215.00" y2="186.27" stroke="#8a8a1e" stroke-width="1.1"/><line x1="218.54" y1="177.74" x2="211.46" y2="184.81" stroke="#8a8a1e" stroke-width="1.1"/><line x1="215.35" y1="180.79" x2="225.35" y2="180.79" stroke="#8a8a1e" stroke-width="1.1"/><line x1="216.81" y1="177.26" x2="223.89" y2="184.33" stroke="#8a8a1e" stroke-width="1.1"/><line x1="220.35" y1="175.79" x2="220.35" y2="185.79" stroke="#8a8a1e" stroke-width="1.1"/><line x1="223.89" y1="177.26" x2="216.81" y2="184.33" stroke="#8a8a1e" stroke-width="1.1"/><line x1="220.70" y1="180.28" x2="230.70" y2="180.28" stroke="#8a8a1e" stroke-width="1.1"/><line x1="222.16" y1="176.75" x2="229.24" y2="183.82" stroke="#8a8a1e" stroke-width="1.1"/><line x1="225.70" y1="175.28" x2="225.70" y2="185.28" stroke="#8a8a1e" stroke-width="1.1"/><line x1="229.24" y1="176.75" x2="222.16" y2="183.82" stroke="#8a8a1e" stroke-width="1.1"/><line x1="226.05" y1="179.73" x2="236.05" y2="179.73" stroke="#8a8a1e" stroke-width="1.1"/><line x1="227.51" y1="176.20" x2="234.59" y2="183.27" stroke="#8a8a1e" stroke-width="1.1"/><line x1="231.05" y1="174.73" x2="231.05" y2="184.73" stroke="#8a8a1e" stroke-width="1.1"/><line x1="234.59" y1="176.20" x2="227.51" y2="183.27" stroke="#8a8a1e" stroke-width="1.1"/><line x1="231.40" y1="179.14" x2="241.40" y2="179.14" stroke="#8a8a1e" stroke-width="1.1"/><line x1="232.86" y1="175.60" x2="239.94" y2="182.67" stroke="#8a8a1e" stroke-width="1.1"/><line x1="236.40" y1="174.14" x2="236.40" y2="184.14" stroke="#8a8a1e" stroke-width="1.1"/><line x1="239.94" y1="175.60" x2="232.86" y2="182.67" stroke="#8a8a1e" stroke-width="1.1"/><line x1="236.75" y1="178.49" x2="246.75" y2="178.49" stroke="#8a8a1e" stroke-width="1.1"/><line x1="238.21" y1="174.95" x2="245.29" y2="182.02" stroke="#8a8a1e" stroke-width="1.1"/><line x1="241.75" y1="173.49" x2="241.75" y2="183.49" stroke="#8a8a1e" stroke-width="1.1"/><line x1="245.29" y1="174.95" x2="238.21" y2="182.02" stroke="#8a8a1e" stroke-width="1.1"/><line x1="242.10" y1="177.77" x2="252.10" y2="177.77" stroke="#8a8a1e" stroke-width="1.1"/><line x1="243.56" y1="174.23" x2="250.64" y2="181.31" stroke="#8a8a1e" stroke-width="1.1"/><line x1="247.10" y1="172.77" x2="247.10" y2="182.77" stroke="#8a8a1e" stroke-width="1.1"/><line x1="250.64" y1="174.23" x2="243.56" y2="181.31" stroke="#8a8a1e" stroke-width="1.1"/><line x1="247.45" y1="176.98" x2="257.45" y2="176.98" stroke="#8a8a1e" stroke-width="1.1"/><line x1="248.91" y1="173.44" x2="255.99" y2="180.51" stroke="#8a8a1e" stroke-width="1.1"/><line x1="252.45" y1="171.98" x2="252.45" y2="181.98" stroke="#8a8a1e" stroke-width="1.1"/><line x1="255.99" y1="173.44" x2="248.91" y2="180.51" stroke="#8a8a1e" stroke-width="1.1"/><line x1="252.80" y1="176.10" x2="262.80" y2="176.10" stroke="#8a8a1e" stroke-width="1.1"/><line x1="254.26" y1="172.56" x2="261.34" y2="179.63" stroke="#8a8a1e" stroke-width="1.1"/><line x1="257.80" y1="171.10" x2="257.80" y2="181.10" stroke="#8a8a1e" stroke-width="1.1"/><line x1="261.34" y1="172.56" x2="254.26" y2="179.63" stroke="#8a8a1e" stroke-width="1.1"/><line x1="258.15" y1="175.12" x2="268.15" y2="175.12" stroke="#8a8a1e" stroke-width="1.1"/><line x1="259.61" y1="171.58" x2="266.69" y2="178.65" stroke="#8a8a1e" stroke-width="1.1"/><line x1="263.15" y1="170.12" x2="263.15" y2="180.12" stroke="#8a8a1e" stroke-width="1.1"/><line x1="266.69" y1="171.58" x2="259.61" y2="178.65" stroke="#8a8a1e" stroke-width="1.1"/><line x1="263.50" y1="174.03" x2="273.50" y2="174.03" stroke="#8a8a1e" stroke-width="1.1"/><line x1="264.96" y1="170.49" x2="272.04" y2="177.56" stroke="#8a8a1e" stroke-width="1.1"/><line x1="268.50" y1="169.03" x2="268.50" y2="179.03" stroke="#8a8a1e" stroke-width="1.1"/><line x1="272.04" y1="170.49" x2="264.96" y2="177.56" stroke="#8a8a1e" stroke-width="1.1"/><line x1="268.85" y1="172.81" x2="278.85" y2="172.81" stroke="#8a8a1e" stroke-width="1.1"/><line x1="270.31" y1="169.27" x2="277.39" y2="176.34" stroke="#8a8a1e" stroke-width="1.1"/><line x1="273.85" y1="167.81" x2="273.85" y2="177.81" stroke="#8a8a1e" stroke-width="1.1"/><line x1="277.39" y1="169.27" x2="270.31" y2="176.34" stroke="#8a8a1e" stroke-width="1.1"/><line x1="274.20" y1="171.44" x2="284.20" y2="171.44" stroke="#8a8a1e" stroke-width="1.1"/><line x1="275.66" y1="167.90" x2="282.74" y2="174.97" stroke="#8a8a1e" stroke-width="1.1"/><line x1="279.20" y1="166.44" x2="279.20" y2="176.44" stroke="#8a8a1e" stroke-width="1.1"/><line x1="282.74" y1="167.90" x2="275.66" y2="174.97" stroke="#8a8a1e" stroke-width="1.1"/><line x1="279.55" y1="169.90" x2="289.55" y2="169.90" stroke="#8a8a1e" stroke-width="1.1"/><line x1="281.01" y1="166.37" x2="288.09" y2="173.44" stroke="#8a8a1e" stroke-width="1.1"/><line x1="284.55" y1="164.90" x2="284.55" y2="174.90" stroke="#8a8a1e" stroke-width="1.1"/><line x1="288.09" y1="166.37" x2="281.01" y2="173.44" stroke="#8a8a1e" stroke-width="1.1"/><line x1="284.90" y1="168.18" x2="294.90" y2="168.18" stroke="#8a8a1e" stroke-width="1.1"/><line x1="286.36" y1="164.64" x2="293.44" y2="171.71" stroke="#8a8a1e" stroke-width="1.1"/><line x1="289.90" y1="163.18" x2="289.90" y2="173.18" stroke="#8a8a1e" stroke-width="1.1"/><line x1="293.44" y1="164.64" x2="286.36" y2="171.71" stroke="#8a8a1e" stroke-width="1.1"/><line x1="290.25" y1="166.24" x2="300.25" y2="166.24" stroke="#8a8a1e" stroke-width="1.1"/><line x1="291.71" y1="162.70" x2="298.79" y2="169.77" stroke="#8a8a1e" stroke-width="1.1"/><line x1="295.25" y1="161.24" x2="295.25" y2="171.24" stroke="#8a8a1e" stroke-width="1.1"/><line x1="298.79" y1="162.70" x2="291.71" y2="169.77" stroke="#8a8a1e" stroke-width="1.1"/><line x1="295.60" y1="164.06" x2="305.60" y2="164.06" stroke="#8a8a1e" stroke-width="1.1"/><line x1="297.06" y1="160.52" x2="304.14" y2="167.59" stroke="#8a8a1e" stroke-width="1.1"/><line x1="300.60" y1="159.06" x2="300.60" y2="169.06" stroke="#8a8a1e" stroke-width="1.1"/><line x1="304.14" y1="160.52" x2="297.06" y2="167.59" stroke="#8a8a1e" stroke-width="1.1"/></g>
<g><polygon points="86.60,179.48 87.88,182.91 91.55,183.07 88.68,185.35 89.66,188.88 86.60,186.86 83.54,188.88 84.52,185.35 81.65,183.07 85.32,182.91" fill="#800000" /><polygon points="91.95,179.27 93.23,182.70 96.90,182.86 94.03,185.14 95.01,188.68 91.95,186.65 88.89,188.68 89.87,185.14 87.00,182.86 90.67,182.70" fill="#800000" /><polygon points="97.30,179.09 98.58,182.52 102.25,182.68 99.38,184.96 100.36,188.49 97.30,186.47 94.24,188.49 95.22,184.96 92.35,182.68 96.02,182.52" fill="#800000" /><polygon points="102.65,178.93 103.93,182.36 107.60,182.52 104.73,184.80 105.71,188.33 102.65,186.31 99.59,188.33 100.57,184.80 97.70,182.52 101.37,182.36" fill="#800000" /><polygon points="108.00,178.79 109.28,182.22 112.95,182.38 110.08,184.66 111.06,188.19 108.00,186.17 104.94,188.19 105.92,184.66 103.05,182.38 106.72,182.22" fill="#800000" /><polygon points="113.35,178.66 114.63,182.09 118.30,182.25 115.43,184.54 116.41,188.07 113.35,186.05 110.29,188.07 111.27,184.54 108.40,182.25 112.07,182.09" fill="#800000" /><polygon points="118.70,178.55 119.98,181.99 123.65,182.15 120.78,184.43 121.76,187.96 118.70,185.94 115.64,187.96 116.62,184.43 113.75,182.15 117.42,181.99" fill="#800000" /><polygon points="124.05,178.46 125.33,181.89 129.00,182.05 126.13,184.33 127.11,187.86 124.05,185.84 120.99,187.86 121.97,184.33 119.10,182.05 122.77,181.89" fill="#800000" /><polygon points="129.40,178.37 130.68,181.80 134.35,181.96 131.48,184.24 132.46,187.78 129.40,185.75 126.34,187.78 127.32,184.24 124.45,181.96 128.12,181.80" fill="#800000" /><polygon points="134.75,178.29 136.03,181.73 139.70,181.89 136.83,184.17 137.81,187.70 134.75,185.68 131.69,187.70 132.67,184.17 129.80,181.89 133.47,181.73" fill="#800000" /><polygon points="140.10,178.23 141.38,181.66 145.05,181.82 142.18,184.10 143.16,187.63 140.10,185.61 137.04,187.63 138.02,184.10 135.15,181.82 138.82,181.66" fill="#800000" /><polygon points="145.45,178.16 146.73,181.60 150.40,181.76 147.53,184.04 148.51,187.57 145.45,185.55 142.39,187.57 143.37,184.04 140.50,181.76 144.17,181.60" fill="#800000" /><polygon points="150.80,178.11 152.08,181.54 155.75,181.70 152.88,183.98 153.86,187.52 150.80,185.49 147.74,187.52 148.72,183.98 145.85,181.70 149.52,181.54" fill="#800000" /><polygon points="156.15,178.06 157.43,181.49 161.10,181.65 158.23,183.94 159.21,187.47 156.15,185.44 153.09,187.47 154.07,183.94 151.20,181.65 154.87,181.49" fill="#800000" /><polygon points="161.50,178.02 162.78,181.45 166.45,181.61 163.58,183.89 164.56,187.42 161.50,185.40 158.44,187.42 159.42,183.89 156.55,181.61 160.22,181.45" fill="#800000" /><polygon points="166.85,177.97 168.13,181.41 171.80,181.57 168.93,183.85 169.91,187.38 166.85,185.36 163.79,187.38 164.77,183.85 161.90,181.57 165.57,181.41" fill="#800000" /><polygon points="172.20,177.94 173.48,181.37 177.15,181.53 174.28,183.81 175.26,187.34 172.20,185.32 169.14,187.34 170.12,183.81 167.25,181.53 170.92,181.37" fill="#800000" /><polygon points="177.55,177.90 178.83,181.33 182.50,181.49 179.63,183.77 180.61,187.31 177.55,185.28 174.49,187.31 175.47,183.77 172.60,181.49 176.27,181.33" fill="#800000" /><polygon points="182.90,177.87 184.18,181.30 187.85,181.46 184.98,183.74 185.96,187.27 182.90,185.25 179.84,187.27 180.82,183.74 177.95,181.46 181.62,181.30" fill="#800000" /><polygon points="188.25,177.83 189.53,181.27 193.20,181.43 190.33,183.71 191.31,187.24 188.25,185.22 185.19,187.24 186.17,183.71 183.30,181.43 186.97,181.27" fill="#800000" /><polygon points="193.60,177.80 194.88,181.23 198.55,181.39 195.68,183.67 196.66,187.21 193.60,185.18 190.54,187.21 191.52,183.67 188.65,181.39 192.32,181.23" fill="#800000" /><polygon points="198.95,177.48 200.23,180.91 203.90,181.07 201.03,183.35 202.01,186.89 198.95,184.86 195.89,186.89 196.87,183.35 194.00,181.07 197.67,180.91" fill="#800000" /><polygon points="204.30,177.15 205.58,180.59 209.25,180.75 206.38,183.03 207.36,186.56 204.30,184.54 201.24,186.56 202.22,183.03 199.35,180.75 203.02,180.59" fill="#800000" /><polygon points="209.65,176.82 210.93,180.25 214.60,180.41 211.73,182.69 212.71,186.23 209.65,184.20 206.59,186.23 207.57,182.69 204.70,180.41 208.37,180.25" fill="#800000" /><polygon points="215.00,176.47 216.28,179.90 219.95,180.06 217.08,182.35 218.06,185.88 215.00,183.85 211.94,185.88 212.92,182.35 210.05,180.06 213.72,179.90" fill="#800000" /><polygon points="220.35,176.10 221.63,179.54 225.30,179.70 222.43,181.98 223.41,185.51 220.35,183.49 217.29,185.51 218.27,181.98 215.40,179.70 219.07,179.54" fill="#800000" /><polygon points="225.70,175.71 226.98,179.14 230.65,179.30 227.78,181.59 228.76,185.12 225.70,183.09 222.64,185.12 223.62,181.59 220.75,179.30 224.42,179.14" fill="#800000" /><polygon points="231.05,175.29 232.33,178.72 236.00,178.88 233.13,181.16 234.11,184.70 231.05,182.67 227.99,184.70 228.97,181.16 226.10,178.88 229.77,178.72" fill="#800000" /><polygon points="236.40,174.83 237.68,178.26 241.35,178.42 238.48,180.70 239.46,184.24 236.40,182.21 233.34,184.24 234.32,180.70 231.45,178.42 235.12,178.26" fill="#800000" /><polygon points="241.75,174.33 243.03,177.76 246.70,177.92 243.83,180.20 244.81,183.74 241.75,181.71 238.69,183.74 239.67,180.20 236.80,177.92 240.47,177.76" fill="#800000" /><polygon points="247.10,173.78 248.38,177.21 252.05,177.37 249.18,179.65 250.16,183.18 247.10,181.16 244.04,183.18 245.02,179.65 242.15,177.37 245.82,177.21" fill="#800000" /><polygon points="252.45,173.17 253.73,176.60 257.40,176.76 254.53,179.04 255.51,182.57 252.45,180.55 249.39,182.57 250.37,179.04 247.50,176.76 251.17,176.60" fill="#800000" /><polygon points="257.80,172.49 259.08,175.92 262.75,176.08 259.88,178.37 260.86,181.90 257.80,179.87 254.74,181.90 255.72,178.37 252.85,176.08 256.52,175.92" fill="#800000" /><polygon points="263.15,171.74 264.43,175.17 268.10,175.33 265.23,177.61 266.21,181.14 263.15,179.12 260.09,181.14 261.07,177.61 258.20,175.33 261.87,175.17" fill="#800000" /><polygon points="268.50,170.90 269.78,174.33 273.45,174.49 270.58,176.77 271.56,180.30 268.50,178.28 265.44,180.30 266.42,176.77 263.55,174.49 267.22,174.33" fill="#800000" /><polygon points="273.85,169.96 275.13,173.39 278.80,173.55 275.93,175.83 276.91,179.36 273.85,177.34 270.79,179.36 271.77,175.83 268.90,173.55 272.57,173.39" fill="#800000" /><polygon points="279.20,168.90 280.48,172.34 284.15,172.50 281.28,174.78 282.26,178.31 279.20,176.29 276.14,178.31 277.12,174.78 274.25,172.50 277.92,172.34" fill="#800000" /><polygon points="284.55,167.72 285.83,171.16 289.50,171.32 286.63,173.60 287.61,177.13 284.55,175.11 281.49,177.13 282.47,173.60 279.60,171.32 283.27,171.16" fill="#800000" /><polygon points="289.90,166.40 291.18,169.83 294.85,169.99 291.98,172.27 292.96,175.80 289.90,173.78 286.84,175.80 287.82,172.27 284.95,169.99 288.62,169.83" fill="#800000" /><polygon points="295.25,164.91 296.53,168.34 300.20,168.50 297.33,170.78 298.31,174.31 295.25,172.29 292.19,174.31 293.17,170.78 290.30,168.50 293.97,168.34" fill="#800000" /><polygon points="300.60,163.23 301.88,166.66 305.55,166.82 302.68,169.10 303.66,172.64 300.60,170.61 297.54,172.64 298.52,169.10 295.65,166.82 299.32,166.66" fill="#800000" /></g>
<g><polygon points="86.60,184.82 90.69,187.79 89.13,192.60 84.07,192.60 82.51,187.79" fill="#2f62a8" /><polygon points="91.95,184.06 96.04,187.04 94.48,191.84 89.42,191.84 87.86,187.04" fill="#2f62a8" /><polygon points="97.30,183.40 101.39,186.37 99.83,191.18 94.77,191.18 93.21,186.37" fill="#2f62a8" /><polygon points="102.65,182.82 106.74,185.79 105.18,190.59 100.12,190.59 98.56,185.79" fill="#2f62a8" /><polygon points="108.00,182.30 112.09,185.27 110.53,190.08 105.47,190.08 103.91,185.27" fill="#2f62a8" /><polygon points="113.35,181.85 117.44,184.82 115.88,189.63 110.82,189.63 109.26,184.82" fill="#2f62a8" /><polygon points="118.70,181.45 122.79,184.42 121.23,189.23 116.17,189.23 114.61,184.42" fill="#2f62a8" /><polygon points="124.05,181.09 128.14,184.06 126.58,188.87 121.52,188.87 119.96,184.06" fill="#2f62a8" /><polygon points="129.40,180.78 133.49,183.75 131.93,188.56 126.87,188.56 125.31,183.75" fill="#2f62a8" /><polygon points="134.75,180.50 138.84,183.47 137.28,188.28 132.22,188.28 130.66,183.47" fill="#2f62a8" /><polygon points="140.10,180.25 144.19,183.22 142.63,188.03 137.57,188.03 136.01,183.22" fill="#2f62a8" /><polygon points="145.45,180.03 149.54,183.00 147.98,187.81 142.92,187.81 141.36,183.00" fill="#2f62a8" /><polygon points="150.80,179.83 154.89,182.80 153.33,187.61 148.27,187.61 146.71,182.80" fill="#2f62a8" /><polygon points="156.15,179.65 160.24,182.62 158.68,187.43 153.62,187.43 152.06,182.62" fill="#2f62a8" /><polygon points="161.50,179.49 165.59,182.46 164.03,187.27 158.97,187.27 157.41,182.46" fill="#2f62a8" /><polygon points="166.85,179.34 170.94,182.31 169.38,187.12 164.32,187.12 162.76,182.31" fill="#2f62a8" /><polygon points="172.20,179.20 176.29,182.17 174.73,186.98 169.67,186.98 168.11,182.17" fill="#2f62a8" /><polygon points="177.55,179.07 181.64,182.04 180.08,186.84 175.02,186.84 173.46,182.04" fill="#2f62a8" /><polygon points="182.90,178.94 186.99,181.91 185.43,186.72 180.37,186.72 178.81,181.91" fill="#2f62a8" /><polygon points="188.25,178.82 192.34,181.79 190.78,186.60 185.72,186.60 184.16,181.79" fill="#2f62a8" /><polygon points="193.60,178.70 197.69,181.67 196.13,186.48 191.07,186.48 189.51,181.67" fill="#2f62a8" /><polygon points="198.95,178.20 203.04,181.17 201.48,185.98 196.42,185.98 194.86,181.17" fill="#2f62a8" /><polygon points="204.30,177.69 208.39,180.66 206.83,185.46 201.77,185.46 200.21,180.66" fill="#2f62a8" /><polygon points="209.65,177.16 213.74,180.13 212.18,184.94 207.12,184.94 205.56,180.13" fill="#2f62a8" /><polygon points="215.00,176.61 219.09,179.58 217.53,184.39 212.47,184.39 210.91,179.58" fill="#2f62a8" /><polygon points="220.35,176.04 224.44,179.01 222.88,183.81 217.82,183.81 216.26,179.01" fill="#2f62a8" /><polygon points="225.70,175.42 229.79,178.39 228.23,183.20 223.17,183.20 221.61,178.39" fill="#2f62a8" /><polygon points="231.05,174.76 235.14,177.73 233.58,182.54 228.52,182.54 226.96,177.73" fill="#2f62a8" /><polygon points="236.40,174.04 240.49,177.01 238.93,181.82 233.87,181.82 232.31,177.01" fill="#2f62a8" /><polygon points="241.75,173.25 245.84,176.22 244.28,181.03 239.22,181.03 237.66,176.22" fill="#2f62a8" /><polygon points="247.10,172.38 251.19,175.35 249.63,180.16 244.57,180.16 243.01,175.35" fill="#2f62a8" /><polygon points="252.45,171.43 256.54,174.40 254.98,179.21 249.92,179.21 248.36,174.40" fill="#2f62a8" /><polygon points="257.80,170.36 261.89,173.34 260.33,178.14 255.27,178.14 253.71,173.34" fill="#2f62a8" /><polygon points="263.15,169.18 267.24,172.15 265.68,176.96 260.62,176.96 259.06,172.15" fill="#2f62a8" /><polygon points="268.50,167.86 272.59,170.83 271.03,175.64 265.97,175.64 264.41,170.83" fill="#2f62a8" /><polygon points="273.85,166.39 277.94,169.36 276.38,174.17 271.32,174.17 269.76,169.36" fill="#2f62a8" /><polygon points="279.20,164.73 283.29,167.71 281.73,172.51 276.67,172.51 275.11,167.71" fill="#2f62a8" /><polygon points="284.55,162.88 288.64,165.85 287.08,170.66 282.02,170.66 280.46,165.85" fill="#2f62a8" /><polygon points="289.90,160.80 293.99,163.77 292.43,168.58 287.37,168.58 285.81,163.77" fill="#2f62a8" /><polygon points="295.25,158.46 299.34,161.43 297.78,166.24 292.72,166.24 291.16,161.43" fill="#2f62a8" /><polygon points="300.60,155.83 304.69,158.80 303.13,163.60 298.07,163.60 296.51,158.80" fill="#2f62a8" /></g>
<g><circle cx="86.60" cy="211.12" r="3.60" fill="url(#sph)"/><circle cx="91.95" cy="208.13" r="3.60" fill="url(#sph)"/><circle cx="97.30" cy="205.58" r="3.60" fill="url(#sph)"/><circle cx="102.65" cy="203.47" r="3.60" fill="url(#sph)"/><circle cx="108.00" cy="201.43" r="3.60" fill="url(#sph)"/><circle cx="113.35" cy="199.68" r="3.60" fill="url(#sph)"/><circle cx="118.70" cy="198.23" r="3.60" fill="url(#sph)"/><circle cx="124.05" cy="196.70" r="3.60" fill="url(#sph)"/><circle cx="129.40" cy="195.17" r="3.60" fill="url(#sph)"/><circle cx="134.75" cy="194.00" r="3.60" fill="url(#sph)"/><circle cx="140.10" cy="192.69" r="3.60" fill="url(#sph)"/><circle cx="145.45" cy="191.60" r="3.60" fill="url(#sph)"/><circle cx="150.80" cy="190.43" r="3.60" fill="url(#sph)"/><circle cx="156.15" cy="189.27" r="3.60" fill="url(#sph)"/><circle cx="161.50" cy="188.32" r="3.60" fill="url(#sph)"/><circle cx="166.85" cy="187.37" r="3.60" fill="url(#sph)"/><circle cx="172.20" cy="186.42" r="3.60" fill="url(#sph)"/><circle cx="177.55" cy="185.33" r="3.60" fill="url(#sph)"/><circle cx="182.90" cy="184.38" r="3.60" fill="url(#sph)"/><circle cx="188.25" cy="183.36" r="3.60" fill="url(#sph)"/><circle cx="193.60" cy="182.64" r="3.60" fill="url(#sph)"/><circle cx="198.95" cy="180.89" r="3.60" fill="url(#sph)"/><circle cx="204.30" cy="179.21" r="3.60" fill="url(#sph)"/><circle cx="209.65" cy="177.03" r="3.60" fill="url(#sph)"/><circle cx="215.00" cy="174.48" r="3.60" fill="url(#sph)"/><circle cx="220.35" cy="171.42" r="3.60" fill="url(#sph)"/><circle cx="225.70" cy="167.48" r="3.60" fill="url(#sph)"/><circle cx="231.05" cy="163.11" r="3.60" fill="url(#sph)"/><circle cx="236.40" cy="158.30" r="3.60" fill="url(#sph)"/><circle cx="241.75" cy="152.77" r="3.60" fill="url(#sph)"/><circle cx="247.10" cy="146.87" r="3.60" fill="url(#sph)"/><circle cx="252.45" cy="140.02" r="3.60" fill="url(#sph)"/><circle cx="257.80" cy="132.37" r="3.60" fill="url(#sph)"/><circle cx="263.15" cy="124.06" r="3.60" fill="url(#sph)"/><circle cx="268.50" cy="114.59" r="3.60" fill="url(#sph)"/><circle cx="273.85" cy="104.61" r="3.60" fill="url(#sph)"/><circle cx="279.20" cy="93.98" r="3.60" fill="url(#sph)"/><circle cx="284.55" cy="82.61" r="3.60" fill="url(#sph)"/><circle cx="289.90" cy="70.88" r="3.60" fill="url(#sph)"/><circle cx="295.25" cy="58.43" r="3.60" fill="url(#sph)"/><circle cx="300.60" cy="45.90" r="3.60" fill="url(#sph)"/></g>
<line x1="60.2" y1="182.75" x2="327.4" y2="181.65" stroke="#000" stroke-width="0.5"/>
<line x1="193.50" y1="16.00" x2="193.50" y2="230.30" stroke="#000" stroke-width="0.5"/>
<rect x="60.35" y="16.0" width="267.05" height="214.30" fill="none" stroke="#1b1b1b" stroke-width="1.8"/>
<line x1="55.30" y1="37.30" x2="60.35" y2="37.30" stroke="#1b1b1b" stroke-width="1.6"/>
<text x="52.60" y="42.50" font-size="16.5" font-weight="bold" text-anchor="end" fill="#000" >200</text>
<line x1="55.30" y1="73.72" x2="60.35" y2="73.72" stroke="#1b1b1b" stroke-width="1.6"/>
<text x="52.60" y="78.92" font-size="16.5" font-weight="bold" text-anchor="end" fill="#000" >150</text>
<line x1="55.30" y1="110.15" x2="60.35" y2="110.15" stroke="#1b1b1b" stroke-width="1.6"/>
<text x="52.60" y="115.35" font-size="16.5" font-weight="bold" text-anchor="end" fill="#000" >100</text>
<line x1="55.30" y1="146.57" x2="60.35" y2="146.57" stroke="#1b1b1b" stroke-width="1.6"/>
<text x="52.60" y="151.77" font-size="16.5" font-weight="bold" text-anchor="end" fill="#000" >50</text>
<line x1="55.30" y1="183.00" x2="60.35" y2="183.00" stroke="#1b1b1b" stroke-width="1.6"/>
<text x="52.60" y="188.20" font-size="16.5" font-weight="bold" text-anchor="end" fill="#000" >0</text>
<line x1="55.30" y1="219.43" x2="60.35" y2="219.43" stroke="#1b1b1b" stroke-width="1.6"/>
<text x="52.60" y="224.62" font-size="16.5" font-weight="bold" text-anchor="end" fill="#000" >-50</text>
<line x1="86.60" y1="230.30" x2="86.60" y2="235.20" stroke="#1b1b1b" stroke-width="1.6"/>
<text x="86.60" y="251.00" font-size="16.5" font-weight="bold" text-anchor="middle" fill="#000" >-2</text>
<line x1="140.10" y1="230.30" x2="140.10" y2="235.20" stroke="#1b1b1b" stroke-width="1.6"/>
<text x="140.10" y="251.00" font-size="16.5" font-weight="bold" text-anchor="middle" fill="#000" >-1</text>
<line x1="193.60" y1="230.30" x2="193.60" y2="235.20" stroke="#1b1b1b" stroke-width="1.6"/>
<text x="193.60" y="251.00" font-size="16.5" font-weight="bold" text-anchor="middle" fill="#000" >0</text>
<line x1="247.10" y1="230.30" x2="247.10" y2="235.20" stroke="#1b1b1b" stroke-width="1.6"/>
<text x="247.10" y="251.00" font-size="16.5" font-weight="bold" text-anchor="middle" fill="#000" >1</text>
<line x1="300.60" y1="230.30" x2="300.60" y2="235.20" stroke="#1b1b1b" stroke-width="1.6"/>
<text x="300.60" y="251.00" font-size="16.5" font-weight="bold" text-anchor="middle" fill="#000" >2</text>
<text x="138.25" y="276.40" font-size="22.3" font-weight="bold" textLength="112.08" lengthAdjust="spacingAndGlyphs" >Voltage(V)</text>
<g transform="translate(16.6,185.8) rotate(-90)"><text x="-0.52" y="0.00" font-size="24" font-weight="bold" textLength="126.14" lengthAdjust="spacingAndGlyphs" >Current(μA)</text></g>
<rect x="71.20" y="41.70" width="6.60" height="6.60" fill="#000"/>
<circle cx="74.50" cy="63.40" r="3.60" fill="#ff0000"/>
<polygon points="74.50,77.44 78.80,85.01 70.20,85.01" fill="#0000ff" />
<polygon points="74.50,105.06 78.80,97.49 70.20,97.49" fill="#ff00ff" />
<polygon points="74.50,113.60 79.00,118.10 74.50,122.60 70.00,118.10" fill="#008000" />
<polygon points="69.63,136.40 77.03,132.20 77.03,140.60" fill="#000080" />
<polygon points="140.07,45.00 132.67,40.80 132.67,49.20" fill="#8000ff" />
<polygon points="136.00,59.30 139.55,61.35 139.55,65.45 136.00,67.50 132.45,65.45 132.45,61.35" fill="#800080" />
<polygon points="136.00,76.40 137.28,79.83 140.95,79.99 138.08,82.27 139.06,85.81 136.00,83.78 132.94,85.81 133.92,82.27 131.05,79.99 134.72,79.83" fill="#800000" />
<line x1="130.90" y1="99.90" x2="141.10" y2="99.90" stroke="#8a8a1e" stroke-width="1.15"/><line x1="132.39" y1="96.29" x2="139.61" y2="103.51" stroke="#8a8a1e" stroke-width="1.15"/><line x1="136.00" y1="94.80" x2="136.00" y2="105.00" stroke="#8a8a1e" stroke-width="1.15"/><line x1="139.61" y1="96.29" x2="132.39" y2="103.51" stroke="#8a8a1e" stroke-width="1.15"/>
<polygon points="136.00,113.80 140.09,116.77 138.53,121.58 133.47,121.58 131.91,116.77" fill="#2f62a8" />
<circle cx="136.00" cy="136.40" r="3.70" fill="url(#sph)"/>
<text x="90.00" y="49.00" font-size="14.5" font-weight="bold" text-anchor="start" fill="#000" >MC</text>
<text x="90.00" y="67.40" font-size="14.5" font-weight="bold" text-anchor="start" fill="#000" >Cys</text>
<text x="90.00" y="85.60" font-size="14.5" font-weight="bold" text-anchor="start" fill="#000" >GSH</text>
<text x="90.0" y="103.90" font-size="14.5" font-weight="bold">H<tspan font-size="8.5" font-weight="normal">2</tspan>O<tspan font-size="8.5" font-weight="normal">2</tspan></text>
<text x="90.00" y="122.10" font-size="14.5" font-weight="bold" text-anchor="start" fill="#000" >SCN-</text>
<text x="90.0" y="140.40" font-size="14.5" font-weight="bold">SO<tspan font-size="8.5" font-weight="normal">4</tspan><tspan font-size="8.5" font-weight="normal" dy="-5.6">2-</tspan></text>
<text x="151.2" y="49.00" font-size="14.5" font-weight="bold">CO<tspan font-size="8.5" font-weight="normal">3</tspan><tspan font-size="8.5" font-weight="normal" dy="-5.6">2-</tspan></text>
<text x="151.2" y="67.40" font-size="14.5" font-weight="bold">S<tspan font-size="8.5" font-weight="normal" dy="-5.6">2-</tspan></text>
<text x="151.2" y="85.60" font-size="14.5" font-weight="bold">S<tspan font-size="8.5" font-weight="normal">2</tspan>O<tspan font-size="8.5" font-weight="normal">3</tspan><tspan font-size="8.5" font-weight="normal" dy="-5.6">2-</tspan></text>
<text x="151.2" y="103.90" font-size="14.5" font-weight="bold">NO<tspan font-size="8.5" font-weight="normal">3</tspan><tspan font-size="8.5" font-weight="normal" dy="-4.6">-</tspan></text>
<text x="151.2" y="122.10" font-size="14.5" font-weight="bold">HS<tspan font-size="8.5" font-weight="normal" dy="-5.2">-</tspan></text>
<text x="151.2" y="140.40" font-size="14.5" font-weight="bold">HSO<tspan font-size="8.5" font-weight="normal" dy="3.5">3</tspan><tspan font-size="8.5" font-weight="normal" dx="0.3" dy="-8.2">-</tspan></text>
<text x="362.48" y="20.60" font-size="28" font-weight="bold" textLength="16.85" lengthAdjust="spacingAndGlyphs" >b</text>
<polyline points="683.10,14.6 416.0,14.6 416.0,230.1 683.10,230.1" fill="none" stroke="#1b1b1b" stroke-width="1.8"/>
<rect x="683.1" y="13.70" width="2" height="221.10" fill="#6c6c6c"/>
<line x1="411.30" y1="30.50" x2="416.00" y2="30.50" stroke="#1b1b1b" stroke-width="1.6"/>
<text x="408.80" y="35.70" font-size="16.5" font-weight="bold" text-anchor="end" fill="#000" >200</text>
<line x1="411.30" y1="72.40" x2="416.00" y2="72.40" stroke="#1b1b1b" stroke-width="1.6"/>
<text x="408.80" y="77.60" font-size="16.5" font-weight="bold" text-anchor="end" fill="#000" >160</text>
<line x1="411.30" y1="114.30" x2="416.00" y2="114.30" stroke="#1b1b1b" stroke-width="1.6"/>
<text x="408.80" y="119.50" font-size="16.5" font-weight="bold" text-anchor="end" fill="#000" >120</text>
<line x1="411.30" y1="156.20" x2="416.00" y2="156.20" stroke="#1b1b1b" stroke-width="1.6"/>
<text x="408.80" y="161.40" font-size="16.5" font-weight="bold" text-anchor="end" fill="#000" >80</text>
<line x1="411.30" y1="198.10" x2="416.00" y2="198.10" stroke="#1b1b1b" stroke-width="1.6"/>
<text x="408.80" y="203.30" font-size="16.5" font-weight="bold" text-anchor="end" fill="#000" >40</text>
<line x1="416.20" y1="230.10" x2="416.20" y2="234.80" stroke="#1b1b1b" stroke-width="1.6"/>
<line x1="443.00" y1="230.10" x2="443.00" y2="234.80" stroke="#1b1b1b" stroke-width="1.6"/>
<line x1="469.80" y1="230.10" x2="469.80" y2="234.80" stroke="#1b1b1b" stroke-width="1.6"/>
<line x1="496.60" y1="230.10" x2="496.60" y2="234.80" stroke="#1b1b1b" stroke-width="1.6"/>
<line x1="523.40" y1="230.10" x2="523.40" y2="234.80" stroke="#1b1b1b" stroke-width="1.6"/>
<line x1="550.20" y1="230.10" x2="550.20" y2="234.80" stroke="#1b1b1b" stroke-width="1.6"/>
<line x1="577.00" y1="230.10" x2="577.00" y2="234.80" stroke="#1b1b1b" stroke-width="1.6"/>
<line x1="603.80" y1="230.10" x2="603.80" y2="234.80" stroke="#1b1b1b" stroke-width="1.6"/>
<line x1="630.60" y1="230.10" x2="630.60" y2="234.80" stroke="#1b1b1b" stroke-width="1.6"/>
<line x1="657.40" y1="230.10" x2="657.40" y2="234.80" stroke="#1b1b1b" stroke-width="1.6"/>
<text x="443.00" y="250.30" font-size="16.5" font-weight="bold" text-anchor="middle" fill="#000" >0</text>
<text x="469.80" y="250.30" font-size="16.5" font-weight="bold" text-anchor="middle" fill="#000" >1</text>
<text x="496.60" y="250.30" font-size="16.5" font-weight="bold" text-anchor="middle" fill="#000" >4</text>
<text x="523.40" y="250.30" font-size="16.5" font-weight="bold" text-anchor="middle" fill="#000" >7</text>
<text x="550.20" y="250.30" font-size="16.5" font-weight="bold" text-anchor="middle" fill="#000" >10</text>
<text x="577.00" y="250.30" font-size="16.5" font-weight="bold" text-anchor="middle" fill="#000" >13</text>
<text x="603.80" y="250.30" font-size="16.5" font-weight="bold" text-anchor="middle" fill="#000" >15</text>
<text x="630.60" y="250.30" font-size="16.5" font-weight="bold" text-anchor="middle" fill="#000" >20</text>
<text x="657.40" y="250.30" font-size="16.5" font-weight="bold" text-anchor="middle" fill="#000" >30</text>
<text x="498.05" y="277.10" font-size="22.0" font-weight="bold" textLength="51.91" lengthAdjust="spacingAndGlyphs" >Time</text>
<text x="550.64" y="277.30" font-size="16.0" font-weight="bold" textLength="5.07" lengthAdjust="spacingAndGlyphs" >(</text>
<text x="556.30" y="277.10" font-size="22.0" font-weight="bold" textLength="40.41" lengthAdjust="spacingAndGlyphs" >min</text>
<text x="597.59" y="277.30" font-size="16.0" font-weight="bold" textLength="4.48" lengthAdjust="spacingAndGlyphs" >)</text>
<g transform="translate(374.8,185.2) rotate(-90)"><text x="-0.53" y="0.00" font-size="24" font-weight="bold" textLength="126.85" lengthAdjust="spacingAndGlyphs" >Current(μA)</text></g>
<path d="M443.00,213.08 C447.47,204.37 460.87,179.82 469.80,160.81 C478.73,141.80 487.67,115.96 496.60,99.01 C505.53,82.05 514.47,69.24 523.40,59.10 C532.33,48.95 541.27,41.95 550.20,38.15 C559.13,34.34 568.07,36.58 577.00,36.26 C585.93,35.95 594.87,36.26 603.80,36.26 C612.73,36.26 621.67,36.26 630.60,36.26 C639.53,36.26 652.93,36.26 657.40,36.26" fill="none" stroke="#000" stroke-width="2.3" stroke-dasharray="0.3 3.7" stroke-linecap="round"/>
<circle cx="443.00" cy="213.08" r="5.20" fill="#000"/><circle cx="443.00" cy="213.08" r="2.3" fill="none" stroke="#c4c4c4" stroke-width="0.9"/><rect x="440.40" y="212.33" width="5.2" height="1.5" fill="#000"/>
<circle cx="469.80" cy="160.81" r="5.20" fill="#000"/><circle cx="469.80" cy="160.81" r="2.3" fill="none" stroke="#c4c4c4" stroke-width="0.9"/><rect x="467.20" y="160.06" width="5.2" height="1.5" fill="#000"/>
<circle cx="496.60" cy="99.01" r="5.20" fill="#000"/><circle cx="496.60" cy="99.01" r="2.3" fill="none" stroke="#c4c4c4" stroke-width="0.9"/><rect x="494.00" y="98.26" width="5.2" height="1.5" fill="#000"/>
<circle cx="523.40" cy="59.10" r="5.20" fill="#000"/><circle cx="523.40" cy="59.10" r="2.3" fill="none" stroke="#c4c4c4" stroke-width="0.9"/><rect x="520.80" y="58.35" width="5.2" height="1.5" fill="#000"/>
<circle cx="550.20" cy="38.15" r="5.20" fill="#000"/><circle cx="550.20" cy="38.15" r="2.3" fill="none" stroke="#c4c4c4" stroke-width="0.9"/><rect x="547.60" y="37.40" width="5.2" height="1.5" fill="#000"/>
<circle cx="577.00" cy="36.26" r="5.20" fill="#000"/><circle cx="577.00" cy="36.26" r="2.3" fill="none" stroke="#c4c4c4" stroke-width="0.9"/><rect x="574.40" y="35.51" width="5.2" height="1.5" fill="#000"/>
<circle cx="603.80" cy="36.26" r="5.20" fill="#000"/><circle cx="603.80" cy="36.26" r="2.3" fill="none" stroke="#c4c4c4" stroke-width="0.9"/><rect x="601.20" y="35.51" width="5.2" height="1.5" fill="#000"/>
<circle cx="630.60" cy="36.26" r="5.20" fill="#000"/><circle cx="630.60" cy="36.26" r="2.3" fill="none" stroke="#c4c4c4" stroke-width="0.9"/><rect x="628.00" y="35.51" width="5.2" height="1.5" fill="#000"/>
<circle cx="657.40" cy="36.26" r="5.20" fill="#000"/><circle cx="657.40" cy="36.26" r="2.3" fill="none" stroke="#c4c4c4" stroke-width="0.9"/><rect x="654.80" y="35.51" width="5.2" height="1.5" fill="#000"/>
<g transform="translate(479.80,216.90)"><clipPath id="cc1"><rect x="0" y="-32.20" width="97.60" height="32.20"/></clipPath><g clip-path="url(#cc1)"><path d="M97.60,0 L0,0 L0.00,-10.10 C7.50,-10.15 35.33,-10.15 45.00,-10.40 C54.67,-10.65 54.45,-11.10 58.00,-11.60 C61.55,-12.10 62.73,-12.47 66.30,-13.40 C69.87,-14.33 75.75,-15.83 79.40,-17.20 C83.05,-18.57 85.72,-19.78 88.20,-21.60 C90.68,-23.42 92.90,-26.12 94.30,-28.10 C95.70,-30.08 96.22,-32.60 96.60,-33.50 L97.60,-33.50 Z" fill="#a6a6a6"/><path d="M0.00,-15.70 C7.50,-15.73 35.83,-15.75 45.00,-15.90 C54.17,-16.05 51.17,-16.13 55.00,-16.60 C58.83,-17.07 64.67,-18.08 68.00,-18.70 C71.33,-19.32 72.95,-19.68 75.00,-20.30 C77.05,-20.92 78.55,-21.47 80.30,-22.40 C82.05,-23.33 84.05,-24.65 85.50,-25.90 C86.95,-27.15 88.10,-28.63 89.00,-29.90 C89.90,-31.17 90.58,-32.90 90.90,-33.50 L96.60,-33.50 C96.22,-32.60 95.70,-30.08 94.30,-28.10 C92.90,-26.12 90.68,-23.42 88.20,-21.60 C85.72,-19.78 83.05,-18.57 79.40,-17.20 C75.75,-15.83 69.87,-14.33 66.30,-13.40 C62.73,-12.47 61.55,-12.10 58.00,-11.60 C54.45,-11.10 54.67,-10.65 45.00,-10.40 C35.33,-10.15 7.50,-10.15 0.00,-10.10 Z" fill="#ff7f7f"/></g><line x1="11.1" y1="-14.0" x2="11.1" y2="-26.0" stroke="#4f4f4f" stroke-width="3.4"/><polyline points="4.00,-30.50 11.1,-25.0 18.20,-30.50" fill="none" stroke="#4f4f4f" stroke-width="3.4" stroke-linejoin="miter" stroke-miterlimit="10"/><line x1="43.1" y1="-14.0" x2="43.1" y2="-26.0" stroke="#4f4f4f" stroke-width="3.4"/><polyline points="36.00,-30.50 43.1,-25.0 50.20,-30.50" fill="none" stroke="#4f4f4f" stroke-width="3.4" stroke-linejoin="miter" stroke-miterlimit="10"/><line x1="78.3" y1="-19.2" x2="78.3" y2="-31.2" stroke="#4f4f4f" stroke-width="3.4"/><polyline points="71.20,-35.70 78.3,-30.2 85.40,-35.70" fill="none" stroke="#4f4f4f" stroke-width="3.4" stroke-linejoin="miter" stroke-miterlimit="10"/><circle cx="27.9" cy="-15.85" r="5.1" fill="none" stroke="#000" stroke-width="1.3"/><line x1="27.9" y1="-19.15" x2="27.9" y2="-9.55" stroke="#000" stroke-width="1.1"/><line x1="23.7" y1="-14.549999999999999" x2="32.1" y2="-14.549999999999999" stroke="#000" stroke-width="1.1"/><line x1="24.299999999999997" y1="-12.55" x2="31.5" y2="-12.55" stroke="#000" stroke-opacity="0.45" stroke-width="1"/><circle cx="61.6" cy="-16.3" r="5.1" fill="none" stroke="#000" stroke-width="1.3"/><line x1="61.6" y1="-19.6" x2="61.6" y2="-10.0" stroke="#000" stroke-width="1.1"/><line x1="57.4" y1="-15.0" x2="65.8" y2="-15.0" stroke="#000" stroke-width="1.1"/><line x1="58.0" y1="-13.0" x2="65.2" y2="-13.0" stroke="#000" stroke-opacity="0.45" stroke-width="1"/></g>
<g transform="translate(522.40,158.80)"><clipPath id="cc2"><rect x="0" y="-31.60" width="99.20" height="31.60"/></clipPath><g clip-path="url(#cc2)"><path d="M99.20,0 L0,0 L0.00,-10.10 C7.62,-10.15 35.91,-10.15 45.74,-10.40 C55.56,-10.65 55.34,-11.10 58.95,-11.60 C62.56,-12.10 63.76,-12.47 67.39,-13.40 C71.01,-14.33 76.99,-15.83 80.70,-17.20 C84.41,-18.57 87.12,-19.78 89.65,-21.60 C92.17,-23.42 94.42,-26.12 95.85,-28.10 C97.27,-30.08 97.79,-32.60 98.18,-33.50 L99.20,-33.50 Z" fill="#a6a6a6"/><path d="M0.00,-15.70 C7.62,-15.73 36.42,-15.75 45.74,-15.90 C55.05,-16.05 52.01,-16.13 55.90,-16.60 C59.80,-17.07 65.73,-18.08 69.11,-18.70 C72.50,-19.32 74.15,-19.68 76.23,-20.30 C78.31,-20.92 79.84,-21.47 81.62,-22.40 C83.40,-23.33 85.43,-24.65 86.90,-25.90 C88.38,-27.15 89.54,-28.63 90.46,-29.90 C91.37,-31.17 92.07,-32.90 92.39,-33.50 L98.18,-33.50 C97.79,-32.60 97.27,-30.08 95.85,-28.10 C94.42,-26.12 92.17,-23.42 89.65,-21.60 C87.12,-19.78 84.41,-18.57 80.70,-17.20 C76.99,-15.83 71.01,-14.33 67.39,-13.40 C63.76,-12.47 62.56,-12.10 58.95,-11.60 C55.34,-11.10 55.56,-10.65 45.74,-10.40 C35.91,-10.15 7.62,-10.15 0.00,-10.10 Z" fill="#ff7f7f"/></g><line x1="11.28" y1="-14.0" x2="11.28" y2="-24.7" stroke="#4f4f4f" stroke-width="3.4"/><polygon points="2.83,-29.20 5.33,-31.90 17.03,-31.90 19.53,-29.30 13.28,-24.20 9.28,-24.20" fill="#4f4f4f"/><polygon points="5.78,-31.90 16.58,-31.90 11.88,-26.60 10.68,-26.60" fill="#2370be"/><line x1="43.81" y1="-14.0" x2="43.81" y2="-24.7" stroke="#4f4f4f" stroke-width="3.4"/><polygon points="35.36,-29.20 37.86,-31.90 49.56,-31.90 52.06,-29.30 45.81,-24.20 41.81,-24.20" fill="#4f4f4f"/><polygon points="38.31,-31.90 49.11,-31.90 44.41,-26.60 43.21,-26.60" fill="#2370be"/><line x1="79.58" y1="-19.2" x2="79.58" y2="-31.2" stroke="#4f4f4f" stroke-width="3.4"/><polyline points="72.48,-35.70 79.58,-30.2 86.68,-35.70" fill="none" stroke="#4f4f4f" stroke-width="3.4" stroke-linejoin="miter" stroke-miterlimit="10"/><circle cx="28.36" cy="-15.85" r="5.1" fill="none" stroke="#000" stroke-width="1.3"/><line x1="28.36" y1="-19.15" x2="28.36" y2="-9.55" stroke="#000" stroke-width="1.1"/><line x1="24.16" y1="-14.549999999999999" x2="32.56" y2="-14.549999999999999" stroke="#000" stroke-width="1.1"/><line x1="24.759999999999998" y1="-12.55" x2="31.96" y2="-12.55" stroke="#000" stroke-opacity="0.45" stroke-width="1"/><circle cx="62.61" cy="-16.3" r="5.1" fill="none" stroke="#000" stroke-width="1.3"/><line x1="62.61" y1="-19.6" x2="62.61" y2="-10.0" stroke="#000" stroke-width="1.1"/><line x1="58.41" y1="-15.0" x2="66.81" y2="-15.0" stroke="#000" stroke-width="1.1"/><line x1="59.01" y1="-13.0" x2="66.21" y2="-13.0" stroke="#000" stroke-opacity="0.45" stroke-width="1"/></g>
<g transform="translate(556.20,101.00)"><clipPath id="cc3"><rect x="0" y="-32.90" width="98.70" height="32.90"/></clipPath><g clip-path="url(#cc3)"><path d="M98.70,0 L0,0 L0.00,-10.10 C7.58,-10.15 35.73,-10.15 45.51,-10.40 C55.28,-10.65 55.06,-11.10 58.65,-11.60 C62.24,-12.10 63.44,-12.47 67.05,-13.40 C70.65,-14.33 76.60,-15.83 80.29,-17.20 C83.99,-18.57 86.68,-19.78 89.19,-21.60 C91.71,-23.42 93.95,-26.12 95.36,-28.10 C96.78,-30.08 97.30,-32.60 97.69,-33.50 L98.70,-33.50 Z" fill="#a6a6a6"/><path d="M0.00,-15.70 C7.58,-15.73 36.24,-15.75 45.51,-15.90 C54.78,-16.05 51.74,-16.13 55.62,-16.60 C59.50,-17.07 65.40,-18.08 68.77,-18.70 C72.14,-19.32 73.77,-19.68 75.85,-20.30 C77.92,-20.92 79.44,-21.47 81.21,-22.40 C82.97,-23.33 85.00,-24.65 86.46,-25.90 C87.93,-27.15 89.09,-28.63 90.00,-29.90 C90.91,-31.17 91.60,-32.90 91.92,-33.50 L97.69,-33.50 C97.30,-32.60 96.78,-30.08 95.36,-28.10 C93.95,-26.12 91.71,-23.42 89.19,-21.60 C86.68,-19.78 83.99,-18.57 80.29,-17.20 C76.60,-15.83 70.65,-14.33 67.05,-13.40 C63.44,-12.47 62.24,-12.10 58.65,-11.60 C55.06,-11.10 55.28,-10.65 45.51,-10.40 C35.73,-10.15 7.58,-10.15 0.00,-10.10 Z" fill="#ff7f7f"/></g><line x1="11.23" y1="-14.0" x2="11.23" y2="-24.7" stroke="#4f4f4f" stroke-width="3.4"/><polygon points="2.78,-29.20 5.28,-31.90 16.98,-31.90 19.48,-29.30 13.23,-24.20 9.23,-24.20" fill="#4f4f4f"/><polygon points="5.73,-31.90 16.53,-31.90 11.83,-26.60 10.63,-26.60" fill="#2370be"/><line x1="43.59" y1="-14.0" x2="43.59" y2="-24.7" stroke="#4f4f4f" stroke-width="3.4"/><polygon points="35.14,-29.20 37.64,-31.90 49.34,-31.90 51.84,-29.30 45.59,-24.20 41.59,-24.20" fill="#4f4f4f"/><polygon points="38.09,-31.90 48.89,-31.90 44.19,-26.60 42.99,-26.60" fill="#2370be"/><line x1="79.18" y1="-19.2" x2="79.18" y2="-29.9" stroke="#4f4f4f" stroke-width="3.4"/><polygon points="70.73,-34.40 73.23,-37.10 84.93,-37.10 87.43,-34.50 81.18,-29.40 77.18,-29.40" fill="#4f4f4f"/><polygon points="73.68,-37.10 84.48,-37.10 79.78,-31.80 78.58,-31.80" fill="#2370be"/><circle cx="28.21" cy="-15.85" r="5.1" fill="none" stroke="#000" stroke-width="1.3"/><line x1="28.21" y1="-19.15" x2="28.21" y2="-9.55" stroke="#000" stroke-width="1.1"/><line x1="24.01" y1="-14.549999999999999" x2="32.410000000000004" y2="-14.549999999999999" stroke="#000" stroke-width="1.1"/><line x1="24.61" y1="-12.55" x2="31.810000000000002" y2="-12.55" stroke="#000" stroke-opacity="0.45" stroke-width="1"/><circle cx="62.29" cy="-16.3" r="5.1" fill="none" stroke="#000" stroke-width="1.3"/><line x1="62.29" y1="-19.6" x2="62.29" y2="-10.0" stroke="#000" stroke-width="1.1"/><line x1="58.089999999999996" y1="-15.0" x2="66.49" y2="-15.0" stroke="#000" stroke-width="1.1"/><line x1="58.69" y1="-13.0" x2="65.89" y2="-13.0" stroke="#000" stroke-opacity="0.45" stroke-width="1"/></g>
<g stroke="#7f7f7f" stroke-width="2.5" fill="none" stroke-linecap="butt"><line x1="450.1" y1="214.0" x2="470.5" y2="205.6"/><polyline points="457.8,203.9 470.5,205.6 462.6,215.3" stroke-linejoin="miter"/></g>
<g stroke="#7f7f7f" stroke-width="2.5" fill="none" stroke-linecap="butt"><line x1="502.0" y1="103.7" x2="515.2" y2="116.0"/><polyline points="511.4,104.0 515.2,116.0 502.6,113.1" stroke-linejoin="miter"/></g>
<g stroke="#7f7f7f" stroke-width="2.5" fill="none" stroke-linecap="butt"><line x1="576.8" y1="44.3" x2="575.5" y2="62.0"/><polyline points="570.0,50.3 575.5,62.0 582.6,51.0" stroke-linejoin="miter"/></g>
<text x="1.66" y="316.50" font-size="28" font-weight="bold" textLength="14.82" lengthAdjust="spacingAndGlyphs" >c</text>
<g><rect x="83.10" y="480.94" width="6.00" height="6.00" fill="#000000"/><rect x="88.35" y="480.78" width="6.00" height="6.00" fill="#000000"/><rect x="93.60" y="480.63" width="6.00" height="6.00" fill="#000000"/><rect x="98.85" y="480.48" width="6.00" height="6.00" fill="#000000"/><rect x="104.10" y="480.35" width="6.00" height="6.00" fill="#000000"/><rect x="109.35" y="480.22" width="6.00" height="6.00" fill="#000000"/><rect x="114.60" y="480.09" width="6.00" height="6.00" fill="#000000"/><rect x="119.85" y="479.98" width="6.00" height="6.00" fill="#000000"/><rect x="125.10" y="479.87" width="6.00" height="6.00" fill="#000000"/><rect x="130.35" y="479.76" width="6.00" height="6.00" fill="#000000"/><rect x="135.60" y="479.66" width="6.00" height="6.00" fill="#000000"/><rect x="140.85" y="479.56" width="6.00" height="6.00" fill="#000000"/><rect x="146.10" y="479.47" width="6.00" height="6.00" fill="#000000"/><rect x="151.35" y="479.38" width="6.00" height="6.00" fill="#000000"/><rect x="156.60" y="479.29" width="6.00" height="6.00" fill="#000000"/><rect x="161.85" y="479.21" width="6.00" height="6.00" fill="#000000"/><rect x="167.10" y="479.12" width="6.00" height="6.00" fill="#000000"/><rect x="172.35" y="479.04" width="6.00" height="6.00" fill="#000000"/><rect x="177.60" y="478.96" width="6.00" height="6.00" fill="#000000"/><rect x="182.85" y="478.88" width="6.00" height="6.00" fill="#000000"/><rect x="188.10" y="478.80" width="6.00" height="6.00" fill="#000000"/><rect x="193.35" y="478.76" width="6.00" height="6.00" fill="#000000"/><rect x="198.60" y="478.68" width="6.00" height="6.00" fill="#000000"/><rect x="203.85" y="478.56" width="6.00" height="6.00" fill="#000000"/><rect x="209.10" y="478.37" width="6.00" height="6.00" fill="#000000"/><rect x="214.35" y="478.10" width="6.00" height="6.00" fill="#000000"/><rect x="219.60" y="477.82" width="6.00" height="6.00" fill="#000000"/><rect x="224.85" y="477.50" width="6.00" height="6.00" fill="#000000"/><rect x="230.10" y="477.12" width="6.00" height="6.00" fill="#000000"/><rect x="235.35" y="476.71" width="6.00" height="6.00" fill="#000000"/><rect x="240.60" y="476.21" width="6.00" height="6.00" fill="#000000"/><rect x="245.85" y="475.60" width="6.00" height="6.00" fill="#000000"/><rect x="251.10" y="474.90" width="6.00" height="6.00" fill="#000000"/><rect x="256.35" y="474.09" width="6.00" height="6.00" fill="#000000"/><rect x="261.60" y="473.25" width="6.00" height="6.00" fill="#000000"/><rect x="266.85" y="472.31" width="6.00" height="6.00" fill="#000000"/><rect x="272.10" y="471.21" width="6.00" height="6.00" fill="#000000"/><rect x="277.35" y="469.85" width="6.00" height="6.00" fill="#000000"/><rect x="282.60" y="468.52" width="6.00" height="6.00" fill="#000000"/><rect x="287.85" y="467.31" width="6.00" height="6.00" fill="#000000"/><rect x="293.10" y="466.10" width="6.00" height="6.00" fill="#000000"/></g>
<g><circle cx="86.10" cy="488.28" r="3.50" fill="#ff0000"/><circle cx="91.35" cy="487.79" r="3.50" fill="#ff0000"/><circle cx="96.60" cy="487.33" r="3.50" fill="#ff0000"/><circle cx="101.85" cy="486.89" r="3.50" fill="#ff0000"/><circle cx="107.10" cy="486.47" r="3.50" fill="#ff0000"/><circle cx="112.35" cy="486.08" r="3.50" fill="#ff0000"/><circle cx="117.60" cy="485.71" r="3.50" fill="#ff0000"/><circle cx="122.85" cy="485.36" r="3.50" fill="#ff0000"/><circle cx="128.10" cy="485.02" r="3.50" fill="#ff0000"/><circle cx="133.35" cy="484.70" r="3.50" fill="#ff0000"/><circle cx="138.60" cy="484.40" r="3.50" fill="#ff0000"/><circle cx="143.85" cy="484.10" r="3.50" fill="#ff0000"/><circle cx="149.10" cy="483.82" r="3.50" fill="#ff0000"/><circle cx="154.35" cy="483.55" r="3.50" fill="#ff0000"/><circle cx="159.60" cy="483.28" r="3.50" fill="#ff0000"/><circle cx="164.85" cy="483.03" r="3.50" fill="#ff0000"/><circle cx="170.10" cy="482.77" r="3.50" fill="#ff0000"/><circle cx="175.35" cy="482.53" r="3.50" fill="#ff0000"/><circle cx="180.60" cy="482.28" r="3.50" fill="#ff0000"/><circle cx="185.85" cy="482.04" r="3.50" fill="#ff0000"/><circle cx="191.10" cy="481.80" r="3.50" fill="#ff0000"/><circle cx="196.35" cy="481.70" r="3.50" fill="#ff0000"/><circle cx="201.60" cy="481.52" r="3.50" fill="#ff0000"/><circle cx="206.85" cy="481.24" r="3.50" fill="#ff0000"/><circle cx="212.10" cy="480.78" r="3.50" fill="#ff0000"/><circle cx="217.35" cy="480.16" r="3.50" fill="#ff0000"/><circle cx="222.60" cy="479.50" r="3.50" fill="#ff0000"/><circle cx="227.85" cy="478.75" r="3.50" fill="#ff0000"/><circle cx="233.10" cy="477.85" r="3.50" fill="#ff0000"/><circle cx="238.35" cy="476.87" r="3.50" fill="#ff0000"/><circle cx="243.60" cy="475.70" r="3.50" fill="#ff0000"/><circle cx="248.85" cy="474.27" r="3.50" fill="#ff0000"/><circle cx="254.10" cy="472.62" r="3.50" fill="#ff0000"/><circle cx="259.35" cy="470.71" r="3.50" fill="#ff0000"/><circle cx="264.60" cy="468.74" r="3.50" fill="#ff0000"/><circle cx="269.85" cy="466.53" r="3.50" fill="#ff0000"/><circle cx="275.10" cy="463.92" r="3.50" fill="#ff0000"/><circle cx="280.35" cy="460.73" r="3.50" fill="#ff0000"/><circle cx="285.60" cy="457.59" r="3.50" fill="#ff0000"/><circle cx="290.85" cy="454.75" r="3.50" fill="#ff0000"/><circle cx="296.10" cy="451.91" r="3.50" fill="#ff0000"/></g>
<g><polygon points="86.10,488.80 90.10,495.84 82.10,495.84" fill="#0000ff" /><polygon points="91.35,487.98 95.35,495.02 87.35,495.02" fill="#0000ff" /><polygon points="96.60,487.20 100.60,494.24 92.60,494.24" fill="#0000ff" /><polygon points="101.85,486.46 105.85,493.50 97.85,493.50" fill="#0000ff" /><polygon points="107.10,485.77 111.10,492.81 103.10,492.81" fill="#0000ff" /><polygon points="112.35,485.11 116.35,492.15 108.35,492.15" fill="#0000ff" /><polygon points="117.60,484.49 121.60,491.53 113.60,491.53" fill="#0000ff" /><polygon points="122.85,483.90 126.85,490.94 118.85,490.94" fill="#0000ff" /><polygon points="128.10,483.34 132.10,490.38 124.10,490.38" fill="#0000ff" /><polygon points="133.35,482.80 137.35,489.84 129.35,489.84" fill="#0000ff" /><polygon points="138.60,482.29 142.60,489.33 134.60,489.33" fill="#0000ff" /><polygon points="143.85,481.79 147.85,488.83 139.85,488.83" fill="#0000ff" /><polygon points="149.10,481.32 153.10,488.36 145.10,488.36" fill="#0000ff" /><polygon points="154.35,480.86 158.35,487.90 150.35,487.90" fill="#0000ff" /><polygon points="159.60,480.42 163.60,487.46 155.60,487.46" fill="#0000ff" /><polygon points="164.85,479.98 168.85,487.02 160.85,487.02" fill="#0000ff" /><polygon points="170.10,479.56 174.10,486.60 166.10,486.60" fill="#0000ff" /><polygon points="175.35,479.15 179.35,486.19 171.35,486.19" fill="#0000ff" /><polygon points="180.60,478.74 184.60,485.78 176.60,485.78" fill="#0000ff" /><polygon points="185.85,478.33 189.85,485.37 181.85,485.37" fill="#0000ff" /><polygon points="191.10,477.93 195.10,484.97 187.10,484.97" fill="#0000ff" /><polygon points="196.35,477.75 200.35,484.79 192.35,484.79" fill="#0000ff" /><polygon points="201.60,477.42 205.60,484.46 197.60,484.46" fill="#0000ff" /><polygon points="206.85,476.93 210.85,483.97 202.85,483.97" fill="#0000ff" /><polygon points="212.10,476.11 216.10,483.15 208.10,483.15" fill="#0000ff" /><polygon points="217.35,474.99 221.35,482.03 213.35,482.03" fill="#0000ff" /><polygon points="222.60,473.82 226.60,480.86 218.60,480.86" fill="#0000ff" /><polygon points="227.85,472.48 231.85,479.52 223.85,479.52" fill="#0000ff" /><polygon points="233.10,470.88 237.10,477.92 229.10,477.92" fill="#0000ff" /><polygon points="238.35,469.12 242.35,476.16 234.35,476.16" fill="#0000ff" /><polygon points="243.60,467.03 247.60,474.07 239.60,474.07" fill="#0000ff" /><polygon points="248.85,464.47 252.85,471.51 244.85,471.51" fill="#0000ff" /><polygon points="254.10,461.53 258.10,468.57 250.10,468.57" fill="#0000ff" /><polygon points="259.35,458.11 263.35,465.15 255.35,465.15" fill="#0000ff" /><polygon points="264.60,454.59 268.60,461.63 260.60,461.63" fill="#0000ff" /><polygon points="269.85,450.64 273.85,457.68 265.85,457.68" fill="#0000ff" /><polygon points="275.10,445.99 279.10,453.03 271.10,453.03" fill="#0000ff" /><polygon points="280.35,440.27 284.35,447.31 276.35,447.31" fill="#0000ff" /><polygon points="285.60,434.67 289.60,441.71 281.60,441.71" fill="#0000ff" /><polygon points="290.85,429.59 294.85,436.63 286.85,436.63" fill="#0000ff" /><polygon points="296.10,424.52 300.10,431.56 292.10,431.56" fill="#0000ff" /></g>
<g><polygon points="86.10,500.35 90.10,493.31 82.10,493.31" fill="#ff00ff" /><polygon points="91.35,499.23 95.35,492.19 87.35,492.19" fill="#ff00ff" /><polygon points="96.60,498.18 100.60,491.14 92.60,491.14" fill="#ff00ff" /><polygon points="101.85,497.19 105.85,490.15 97.85,490.15" fill="#ff00ff" /><polygon points="107.10,496.26 111.10,489.22 103.10,489.22" fill="#ff00ff" /><polygon points="112.35,495.37 116.35,488.33 108.35,488.33" fill="#ff00ff" /><polygon points="117.60,494.53 121.60,487.49 113.60,487.49" fill="#ff00ff" /><polygon points="122.85,493.73 126.85,486.69 118.85,486.69" fill="#ff00ff" /><polygon points="128.10,492.97 132.10,485.93 124.10,485.93" fill="#ff00ff" /><polygon points="133.35,492.25 137.35,485.21 129.35,485.21" fill="#ff00ff" /><polygon points="138.60,491.55 142.60,484.51 134.60,484.51" fill="#ff00ff" /><polygon points="143.85,490.89 147.85,483.85 139.85,483.85" fill="#ff00ff" /><polygon points="149.10,490.25 153.10,483.21 145.10,483.21" fill="#ff00ff" /><polygon points="154.35,489.63 158.35,482.59 150.35,482.59" fill="#ff00ff" /><polygon points="159.60,489.03 163.60,481.99 155.60,481.99" fill="#ff00ff" /><polygon points="164.85,488.45 168.85,481.41 160.85,481.41" fill="#ff00ff" /><polygon points="170.10,487.88 174.10,480.84 166.10,480.84" fill="#ff00ff" /><polygon points="175.35,487.32 179.35,480.28 171.35,480.28" fill="#ff00ff" /><polygon points="180.60,486.76 184.60,479.72 176.60,479.72" fill="#ff00ff" /><polygon points="185.85,486.22 189.85,479.18 181.85,479.18" fill="#ff00ff" /><polygon points="191.10,485.67 195.10,478.63 187.10,478.63" fill="#ff00ff" /><polygon points="196.35,485.43 200.35,478.39 192.35,478.39" fill="#ff00ff" /><polygon points="201.60,484.99 205.60,477.95 197.60,477.95" fill="#ff00ff" /><polygon points="206.85,484.34 210.85,477.30 202.85,477.30" fill="#ff00ff" /><polygon points="212.10,483.24 216.10,476.20 208.10,476.20" fill="#ff00ff" /><polygon points="217.35,481.73 221.35,474.69 213.35,474.69" fill="#ff00ff" /><polygon points="222.60,480.16 226.60,473.12 218.60,473.12" fill="#ff00ff" /><polygon points="227.85,478.37 231.85,471.33 223.85,471.33" fill="#ff00ff" /><polygon points="233.10,476.22 237.10,469.18 229.10,469.18" fill="#ff00ff" /><polygon points="238.35,473.85 242.35,466.81 234.35,466.81" fill="#ff00ff" /><polygon points="243.60,471.06 247.60,464.02 239.60,464.02" fill="#ff00ff" /><polygon points="248.85,467.62 252.85,460.58 244.85,460.58" fill="#ff00ff" /><polygon points="254.10,463.68 258.10,456.64 250.10,456.64" fill="#ff00ff" /><polygon points="259.35,459.10 263.35,452.06 255.35,452.06" fill="#ff00ff" /><polygon points="264.60,454.37 268.60,447.33 260.60,447.33" fill="#ff00ff" /><polygon points="269.85,449.07 273.85,442.03 265.85,442.03" fill="#ff00ff" /><polygon points="275.10,442.84 279.10,435.80 271.10,435.80" fill="#ff00ff" /><polygon points="280.35,435.18 284.35,428.14 276.35,428.14" fill="#ff00ff" /><polygon points="285.60,427.66 289.60,420.62 281.60,420.62" fill="#ff00ff" /><polygon points="290.85,420.85 294.85,413.81 286.85,413.81" fill="#ff00ff" /><polygon points="296.10,414.05 300.10,407.01 292.10,407.01" fill="#ff00ff" /></g>
<g><polygon points="86.10,496.30 90.35,500.55 86.10,504.80 81.85,500.55" fill="#008000" /><polygon points="91.35,494.87 95.60,499.12 91.35,503.37 87.10,499.12" fill="#008000" /><polygon points="96.60,493.53 100.85,497.78 96.60,502.03 92.35,497.78" fill="#008000" /><polygon points="101.85,492.27 106.10,496.52 101.85,500.77 97.60,496.52" fill="#008000" /><polygon points="107.10,491.07 111.35,495.32 107.10,499.57 102.85,495.32" fill="#008000" /><polygon points="112.35,489.94 116.60,494.19 112.35,498.44 108.10,494.19" fill="#008000" /><polygon points="117.60,488.86 121.85,493.11 117.60,497.36 113.35,493.11" fill="#008000" /><polygon points="122.85,487.85 127.10,492.10 122.85,496.35 118.60,492.10" fill="#008000" /><polygon points="128.10,486.88 132.35,491.13 128.10,495.38 123.85,491.13" fill="#008000" /><polygon points="133.35,485.95 137.60,490.20 133.35,494.45 129.10,490.20" fill="#008000" /><polygon points="138.60,485.06 142.85,489.31 138.60,493.56 134.35,489.31" fill="#008000" /><polygon points="143.85,484.21 148.10,488.46 143.85,492.71 139.60,488.46" fill="#008000" /><polygon points="149.10,483.40 153.35,487.65 149.10,491.90 144.85,487.65" fill="#008000" /><polygon points="154.35,482.61 158.60,486.86 154.35,491.11 150.10,486.86" fill="#008000" /><polygon points="159.60,481.84 163.85,486.09 159.60,490.34 155.35,486.09" fill="#008000" /><polygon points="164.85,481.09 169.10,485.34 164.85,489.59 160.60,485.34" fill="#008000" /><polygon points="170.10,480.37 174.35,484.62 170.10,488.87 165.85,484.62" fill="#008000" /><polygon points="175.35,479.65 179.60,483.90 175.35,488.15 171.10,483.90" fill="#008000" /><polygon points="180.60,478.94 184.85,483.19 180.60,487.44 176.35,483.19" fill="#008000" /><polygon points="185.85,478.25 190.10,482.50 185.85,486.75 181.60,482.50" fill="#008000" /><polygon points="191.10,477.55 195.35,481.80 191.10,486.05 186.85,481.80" fill="#008000" /><polygon points="196.35,477.20 200.60,481.45 196.35,485.70 192.10,481.45" fill="#008000" /><polygon points="201.60,476.57 205.85,480.82 201.60,485.07 197.35,480.82" fill="#008000" /><polygon points="206.85,475.64 211.10,479.89 206.85,484.14 202.60,479.89" fill="#008000" /><polygon points="212.10,474.05 216.35,478.30 212.10,482.55 207.85,478.30" fill="#008000" /><polygon points="217.35,471.89 221.60,476.14 217.35,480.39 213.10,476.14" fill="#008000" /><polygon points="222.60,469.63 226.85,473.88 222.60,478.13 218.35,473.88" fill="#008000" /><polygon points="227.85,467.06 232.10,471.31 227.85,475.56 223.60,471.31" fill="#008000" /><polygon points="233.10,463.97 237.35,468.22 233.10,472.47 228.85,468.22" fill="#008000" /><polygon points="238.35,460.58 242.60,464.83 238.35,469.08 234.10,464.83" fill="#008000" /><polygon points="243.60,456.57 247.85,460.82 243.60,465.07 239.35,460.82" fill="#008000" /><polygon points="248.85,451.63 253.10,455.88 248.85,460.13 244.60,455.88" fill="#008000" /><polygon points="254.10,445.97 258.35,450.22 254.10,454.47 249.85,450.22" fill="#008000" /><polygon points="259.35,439.39 263.60,443.64 259.35,447.89 255.10,443.64" fill="#008000" /><polygon points="264.60,432.60 268.85,436.85 264.60,441.10 260.35,436.85" fill="#008000" /><polygon points="269.85,424.99 274.10,429.24 269.85,433.49 265.60,429.24" fill="#008000" /><polygon points="275.10,416.04 279.35,420.29 275.10,424.54 270.85,420.29" fill="#008000" /><polygon points="280.35,405.04 284.60,409.29 280.35,413.54 276.10,409.29" fill="#008000" /><polygon points="285.60,394.24 289.85,398.49 285.60,402.74 281.35,398.49" fill="#008000" /><polygon points="290.85,384.47 295.10,388.72 290.85,392.97 286.60,388.72" fill="#008000" /><polygon points="296.10,374.70 300.35,378.95 296.10,383.20 291.85,378.95" fill="#008000" /></g>
<g><polygon points="82.23,500.98 89.27,496.98 89.27,504.98" fill="#ff8000" /><polygon points="87.48,499.52 94.52,495.52 94.52,503.52" fill="#ff8000" /><polygon points="92.73,498.15 99.77,494.15 99.77,502.15" fill="#ff8000" /><polygon points="97.98,496.85 105.02,492.85 105.02,500.85" fill="#ff8000" /><polygon points="103.23,495.63 110.27,491.63 110.27,499.63" fill="#ff8000" /><polygon points="108.48,494.47 115.52,490.47 115.52,498.47" fill="#ff8000" /><polygon points="113.73,493.37 120.77,489.37 120.77,497.37" fill="#ff8000" /><polygon points="118.98,492.33 126.02,488.33 126.02,496.33" fill="#ff8000" /><polygon points="124.23,491.34 131.27,487.34 131.27,495.34" fill="#ff8000" /><polygon points="129.48,490.39 136.52,486.39 136.52,494.39" fill="#ff8000" /><polygon points="134.73,489.49 141.77,485.49 141.77,493.49" fill="#ff8000" /><polygon points="139.98,488.62 147.02,484.62 147.02,492.62" fill="#ff8000" /><polygon points="145.23,487.78 152.27,483.78 152.27,491.78" fill="#ff8000" /><polygon points="150.48,486.97 157.52,482.97 157.52,490.97" fill="#ff8000" /><polygon points="155.73,486.19 162.77,482.19 162.77,490.19" fill="#ff8000" /><polygon points="160.98,485.42 168.02,481.42 168.02,489.42" fill="#ff8000" /><polygon points="166.23,484.68 173.27,480.68 173.27,488.68" fill="#ff8000" /><polygon points="171.48,483.95 178.52,479.95 178.52,487.95" fill="#ff8000" /><polygon points="176.73,483.23 183.77,479.23 183.77,487.23" fill="#ff8000" /><polygon points="181.98,482.51 189.02,478.51 189.02,486.51" fill="#ff8000" /><polygon points="187.23,481.80 194.27,477.80 194.27,485.80" fill="#ff8000" /><polygon points="192.48,481.38 199.52,477.38 199.52,485.38" fill="#ff8000" /><polygon points="197.73,480.64 204.77,476.64 204.77,484.64" fill="#ff8000" /><polygon points="202.98,479.53 210.02,475.53 210.02,483.53" fill="#ff8000" /><polygon points="208.23,477.65 215.27,473.65 215.27,481.65" fill="#ff8000" /><polygon points="213.48,475.08 220.52,471.08 220.52,479.08" fill="#ff8000" /><polygon points="218.73,472.40 225.77,468.40 225.77,476.40" fill="#ff8000" /><polygon points="223.98,469.34 231.02,465.34 231.02,473.34" fill="#ff8000" /><polygon points="229.23,465.68 236.27,461.68 236.27,469.68" fill="#ff8000" /><polygon points="234.48,461.65 241.52,457.65 241.52,465.65" fill="#ff8000" /><polygon points="239.73,456.88 246.77,452.88 246.77,460.88" fill="#ff8000" /><polygon points="244.98,451.02 252.02,447.02 252.02,455.02" fill="#ff8000" /><polygon points="250.23,444.30 257.27,440.30 257.27,448.30" fill="#ff8000" /><polygon points="255.48,436.49 262.52,432.49 262.52,440.49" fill="#ff8000" /><polygon points="260.73,428.42 267.77,424.42 267.77,432.42" fill="#ff8000" /><polygon points="265.98,419.39 273.02,415.39 273.02,423.39" fill="#ff8000" /><polygon points="271.23,408.76 278.27,404.76 278.27,412.76" fill="#ff8000" /><polygon points="276.48,395.69 283.52,391.69 283.52,399.69" fill="#ff8000" /><polygon points="281.73,382.87 288.77,378.87 288.77,386.87" fill="#ff8000" /><polygon points="286.98,371.26 294.02,367.26 294.02,375.26" fill="#ff8000" /><polygon points="292.23,359.66 299.27,355.66 299.27,363.66" fill="#ff8000" /></g>
<g><polygon points="89.97,506.17 82.93,502.17 82.93,510.17" fill="#00ffff" /><polygon points="95.22,504.32 88.18,500.32 88.18,508.32" fill="#00ffff" /><polygon points="100.47,502.58 93.43,498.58 93.43,506.58" fill="#00ffff" /><polygon points="105.72,500.93 98.68,496.93 98.68,504.93" fill="#00ffff" /><polygon points="110.97,499.37 103.93,495.37 103.93,503.37" fill="#00ffff" /><polygon points="116.22,497.90 109.18,493.90 109.18,501.90" fill="#00ffff" /><polygon points="121.47,496.51 114.43,492.51 114.43,500.51" fill="#00ffff" /><polygon points="126.72,495.18 119.68,491.18 119.68,499.18" fill="#00ffff" /><polygon points="131.97,493.92 124.93,489.92 124.93,497.92" fill="#00ffff" /><polygon points="137.22,492.72 130.18,488.72 130.18,496.72" fill="#00ffff" /><polygon points="142.47,491.57 135.43,487.57 135.43,495.57" fill="#00ffff" /><polygon points="147.72,490.46 140.68,486.46 140.68,494.46" fill="#00ffff" /><polygon points="152.97,489.40 145.93,485.40 145.93,493.40" fill="#00ffff" /><polygon points="158.22,488.37 151.18,484.37 151.18,492.37" fill="#00ffff" /><polygon points="163.47,487.38 156.43,483.38 156.43,491.38" fill="#00ffff" /><polygon points="168.72,486.41 161.68,482.41 161.68,490.41" fill="#00ffff" /><polygon points="173.97,485.46 166.93,481.46 166.93,489.46" fill="#00ffff" /><polygon points="179.22,484.53 172.18,480.53 172.18,488.53" fill="#00ffff" /><polygon points="184.47,483.61 177.43,479.61 177.43,487.61" fill="#00ffff" /><polygon points="189.72,482.70 182.68,478.70 182.68,486.70" fill="#00ffff" /><polygon points="194.97,481.80 187.93,477.80 187.93,485.80" fill="#00ffff" /><polygon points="200.22,481.24 193.18,477.24 193.18,485.24" fill="#00ffff" /><polygon points="205.47,480.23 198.43,476.23 198.43,484.23" fill="#00ffff" /><polygon points="210.72,478.71 203.68,474.71 203.68,482.71" fill="#00ffff" /><polygon points="215.97,476.18 208.93,472.18 208.93,480.18" fill="#00ffff" /><polygon points="221.22,472.58 214.18,468.58 214.18,476.58" fill="#00ffff" /><polygon points="226.47,468.98 219.43,464.98 219.43,472.98" fill="#00ffff" /><polygon points="231.72,464.81 224.68,460.81 224.68,468.81" fill="#00ffff" /><polygon points="236.97,459.86 229.93,455.86 229.93,463.86" fill="#00ffff" /><polygon points="242.22,454.41 235.18,450.41 235.18,458.41" fill="#00ffff" /><polygon points="247.47,447.77 240.43,443.77 240.43,451.77" fill="#00ffff" /><polygon points="252.72,439.78 245.68,435.78 245.68,443.78" fill="#00ffff" /><polygon points="257.97,430.67 250.93,426.67 250.93,434.67" fill="#00ffff" /><polygon points="263.22,420.04 256.18,416.04 256.18,424.04" fill="#00ffff" /><polygon points="268.47,409.13 261.43,405.13 261.43,413.13" fill="#00ffff" /><polygon points="273.72,396.75 266.68,392.75 266.68,400.75" fill="#00ffff" /><polygon points="278.97,381.96 271.93,377.96 271.93,385.96" fill="#00ffff" /><polygon points="284.22,368.80 277.18,364.80 277.18,372.80" fill="#00ffff" /><polygon points="289.47,356.45 282.43,352.45 282.43,360.45" fill="#00ffff" /><polygon points="294.72,343.05 287.68,339.05 287.68,347.05" fill="#00ffff" /><polygon points="299.97,330.20 292.93,326.20 292.93,334.20" fill="#00ffff" /></g>
<g><polygon points="86.10,500.80 89.82,502.95 89.82,507.25 86.10,509.40 82.38,507.25 82.38,502.95" fill="#808080" /><polygon points="91.35,499.03 95.07,501.18 95.07,505.48 91.35,507.63 87.63,505.48 87.63,501.18" fill="#808080" /><polygon points="96.60,497.36 100.32,499.51 100.32,503.81 96.60,505.96 92.88,503.81 92.88,499.51" fill="#808080" /><polygon points="101.85,495.79 105.57,497.94 105.57,502.24 101.85,504.39 98.13,502.24 98.13,497.94" fill="#808080" /><polygon points="107.10,494.30 110.82,496.45 110.82,500.75 107.10,502.90 103.38,500.75 103.38,496.45" fill="#808080" /><polygon points="112.35,492.90 116.07,495.05 116.07,499.35 112.35,501.50 108.63,499.35 108.63,495.05" fill="#808080" /><polygon points="117.60,491.56 121.32,493.71 121.32,498.01 117.60,500.16 113.88,498.01 113.88,493.71" fill="#808080" /><polygon points="122.85,490.30 126.57,492.45 126.57,496.75 122.85,498.90 119.13,496.75 119.13,492.45" fill="#808080" /><polygon points="128.10,489.09 131.82,491.24 131.82,495.54 128.10,497.69 124.38,495.54 124.38,491.24" fill="#808080" /><polygon points="133.35,487.94 137.07,490.09 137.07,494.39 133.35,496.54 129.63,494.39 129.63,490.09" fill="#808080" /><polygon points="138.60,486.84 142.32,488.99 142.32,493.29 138.60,495.44 134.88,493.29 134.88,488.99" fill="#808080" /><polygon points="143.85,485.78 147.57,487.93 147.57,492.23 143.85,494.38 140.13,492.23 140.13,487.93" fill="#808080" /><polygon points="149.10,484.77 152.82,486.92 152.82,491.22 149.10,493.37 145.38,491.22 145.38,486.92" fill="#808080" /><polygon points="154.35,483.78 158.07,485.93 158.07,490.23 154.35,492.38 150.63,490.23 150.63,485.93" fill="#808080" /><polygon points="159.60,482.83 163.32,484.98 163.32,489.28 159.60,491.43 155.88,489.28 155.88,484.98" fill="#808080" /><polygon points="164.85,481.90 168.57,484.05 168.57,488.35 164.85,490.50 161.13,488.35 161.13,484.05" fill="#808080" /><polygon points="170.10,481.00 173.82,483.15 173.82,487.45 170.10,489.60 166.38,487.45 166.38,483.15" fill="#808080" /><polygon points="175.35,480.11 179.07,482.26 179.07,486.56 175.35,488.71 171.63,486.56 171.63,482.26" fill="#808080" /><polygon points="180.60,479.23 184.32,481.38 184.32,485.68 180.60,487.83 176.88,485.68 176.88,481.38" fill="#808080" /><polygon points="185.85,478.36 189.57,480.51 189.57,484.81 185.85,486.96 182.13,484.81 182.13,480.51" fill="#808080" /><polygon points="191.10,477.50 194.82,479.65 194.82,483.95 191.10,486.10 187.38,483.95 187.38,479.65" fill="#808080" /><polygon points="196.35,476.96 200.07,479.11 200.07,483.41 196.35,485.56 192.63,483.41 192.63,479.11" fill="#808080" /><polygon points="201.60,476.00 205.32,478.15 205.32,482.45 201.60,484.60 197.88,482.45 197.88,478.15" fill="#808080" /><polygon points="206.85,474.55 210.57,476.70 210.57,481.00 206.85,483.15 203.13,481.00 203.13,476.70" fill="#808080" /><polygon points="212.10,472.14 215.82,474.29 215.82,478.59 212.10,480.74 208.38,478.59 208.38,474.29" fill="#808080" /><polygon points="217.35,468.71 221.07,470.86 221.07,475.16 217.35,477.31 213.63,475.16 213.63,470.86" fill="#808080" /><polygon points="222.60,465.29 226.32,467.44 226.32,471.74 222.60,473.89 218.88,471.74 218.88,467.44" fill="#808080" /><polygon points="227.85,461.32 231.57,463.47 231.57,467.77 227.85,469.92 224.13,467.77 224.13,463.47" fill="#808080" /><polygon points="233.10,456.61 236.82,458.76 236.82,463.06 233.10,465.21 229.38,463.06 229.38,458.76" fill="#808080" /><polygon points="238.35,451.41 242.07,453.56 242.07,457.86 238.35,460.01 234.63,457.86 234.63,453.56" fill="#808080" /><polygon points="243.60,445.09 247.32,447.24 247.32,451.54 243.60,453.69 239.88,451.54 239.88,447.24" fill="#808080" /><polygon points="248.85,437.48 252.57,439.63 252.57,443.93 248.85,446.08 245.13,443.93 245.13,439.63" fill="#808080" /><polygon points="254.10,428.80 257.82,430.95 257.82,435.25 254.10,437.40 250.38,435.25 250.38,430.95" fill="#808080" /><polygon points="259.35,418.68 263.07,420.83 263.07,425.13 259.35,427.28 255.63,425.13 255.63,420.83" fill="#808080" /><polygon points="264.60,408.29 268.32,410.44 268.32,414.74 264.60,416.89 260.88,414.74 260.88,410.44" fill="#808080" /><polygon points="269.85,396.50 273.57,398.65 273.57,402.95 269.85,405.10 266.13,402.95 266.13,398.65" fill="#808080" /><polygon points="275.10,382.41 278.82,384.56 278.82,388.86 275.10,391.01 271.38,388.86 271.38,384.56" fill="#808080" /><polygon points="280.35,369.88 284.07,372.03 284.07,376.33 280.35,378.48 276.63,376.33 276.63,372.03" fill="#808080" /><polygon points="285.60,347.00 289.32,349.15 289.32,353.45 285.60,355.60 281.88,353.45 281.88,349.15" fill="#808080" /><polygon points="290.85,333.40 294.57,335.55 294.57,339.85 290.85,342.00 287.13,339.85 287.13,335.55" fill="#808080" /><polygon points="296.10,318.93 299.82,321.08 299.82,325.38 296.10,327.53 292.38,325.38 292.38,321.08" fill="#808080" /></g>
<line x1="60.1" y1="481.75" x2="321.9" y2="480.85" stroke="#000" stroke-width="0.5"/>
<line x1="191.50" y1="308.05" x2="191.50" y2="522.00" stroke="#000" stroke-width="0.5"/>
<rect x="60.2" y="308.05" width="267.20" height="213.95" fill="none" stroke="#1b1b1b" stroke-width="1.8"/>
<line x1="55.30" y1="331.80" x2="60.20" y2="331.80" stroke="#1b1b1b" stroke-width="1.6"/>
<text x="52.60" y="337.00" font-size="16.5" font-weight="bold" text-anchor="end" fill="#000" >280</text>
<line x1="55.30" y1="369.30" x2="60.20" y2="369.30" stroke="#1b1b1b" stroke-width="1.6"/>
<text x="52.60" y="374.50" font-size="16.5" font-weight="bold" text-anchor="end" fill="#000" >210</text>
<line x1="55.30" y1="406.80" x2="60.20" y2="406.80" stroke="#1b1b1b" stroke-width="1.6"/>
<text x="52.60" y="412.00" font-size="16.5" font-weight="bold" text-anchor="end" fill="#000" >140</text>
<line x1="55.30" y1="444.30" x2="60.20" y2="444.30" stroke="#1b1b1b" stroke-width="1.6"/>
<text x="52.60" y="449.50" font-size="16.5" font-weight="bold" text-anchor="end" fill="#000" >70</text>
<line x1="55.30" y1="481.80" x2="60.20" y2="481.80" stroke="#1b1b1b" stroke-width="1.6"/>
<text x="52.60" y="487.00" font-size="16.5" font-weight="bold" text-anchor="end" fill="#000" >0</text>
<line x1="55.30" y1="519.30" x2="60.20" y2="519.30" stroke="#1b1b1b" stroke-width="1.6"/>
<text x="52.60" y="524.50" font-size="16.5" font-weight="bold" text-anchor="end" fill="#000" >-70</text>
<line x1="86.10" y1="522.00" x2="86.10" y2="526.70" stroke="#1b1b1b" stroke-width="1.6"/>
<text x="86.10" y="543.00" font-size="16.5" font-weight="bold" text-anchor="middle" fill="#000" >-2</text>
<line x1="138.60" y1="522.00" x2="138.60" y2="526.70" stroke="#1b1b1b" stroke-width="1.6"/>
<text x="138.60" y="543.00" font-size="16.5" font-weight="bold" text-anchor="middle" fill="#000" >-1</text>
<line x1="191.10" y1="522.00" x2="191.10" y2="526.70" stroke="#1b1b1b" stroke-width="1.6"/>
<text x="191.10" y="543.00" font-size="16.5" font-weight="bold" text-anchor="middle" fill="#000" >0</text>
<line x1="243.60" y1="522.00" x2="243.60" y2="526.70" stroke="#1b1b1b" stroke-width="1.6"/>
<text x="243.60" y="543.00" font-size="16.5" font-weight="bold" text-anchor="middle" fill="#000" >1</text>
<line x1="296.10" y1="522.00" x2="296.10" y2="526.70" stroke="#1b1b1b" stroke-width="1.6"/>
<text x="296.10" y="543.00" font-size="16.5" font-weight="bold" text-anchor="middle" fill="#000" >2</text>
<text x="138.15" y="568.70" font-size="22.3" font-weight="bold" textLength="111.68" lengthAdjust="spacingAndGlyphs" >Voltage(V)</text>
<g transform="translate(16.6,478.0) rotate(-90)"><text x="-0.53" y="0.00" font-size="24" font-weight="bold" textLength="126.85" lengthAdjust="spacingAndGlyphs" >Current(μA)</text></g>
<rect x="83.00" y="321.50" width="5.60" height="5.60" fill="#000"/>
<circle cx="85.80" cy="344.77" r="3.30" fill="#ff0000"/>
<polygon points="85.80,361.66 89.50,368.17 82.10,368.17" fill="#0000ff" />
<polygon points="85.80,389.29 89.50,382.78 82.10,382.78" fill="#ff00ff" />
<polygon points="85.80,402.08 89.90,406.18 85.80,410.28 81.70,406.18" fill="#008000" />
<polygon points="81.72,426.65 88.23,422.95 88.23,430.35" fill="#ff8000" />
<polygon points="90.18,447.12 83.67,443.42 83.67,450.82" fill="#00ffff" />
<polygon points="85.80,463.69 89.18,465.64 89.18,469.54 85.80,471.49 82.42,469.54 82.42,465.64" fill="#808080" />
<text x="102.30" y="327.60" font-size="14.5" font-weight="bold" text-anchor="start" fill="#000" >MC</text>
<text x="102.3" y="348.17" font-size="14.5" font-weight="bold">10<tspan font-size="9" font-weight="normal" dy="-6">-8</tspan><tspan dy="6"> M</tspan></text>
<text x="102.3" y="368.64" font-size="14.5" font-weight="bold">10<tspan font-size="9" font-weight="normal" dy="-6">-7</tspan><tspan dy="6"> M</tspan></text>
<text x="102.3" y="389.11" font-size="14.5" font-weight="bold">10<tspan font-size="9" font-weight="normal" dy="-6">-6</tspan><tspan dy="6"> M</tspan></text>
<text x="102.3" y="409.58" font-size="14.5" font-weight="bold">10<tspan font-size="9" font-weight="normal" dy="-6">-5</tspan><tspan dy="6"> M</tspan></text>
<text x="102.3" y="430.05" font-size="14.5" font-weight="bold">10<tspan font-size="9" font-weight="normal" dy="-6">-4</tspan><tspan dy="6"> M</tspan></text>
<text x="102.3" y="450.52" font-size="14.5" font-weight="bold">10<tspan font-size="9" font-weight="normal" dy="-6">-3</tspan><tspan dy="6"> M</tspan></text>
<text x="102.3" y="470.99" font-size="14.5" font-weight="bold">10<tspan font-size="9" font-weight="normal" dy="-6">-2</tspan><tspan dy="6"> M</tspan></text>
<line x1="311.5" y1="466.6" x2="311.5" y2="336" stroke="#7a7a7a" stroke-width="2.4" stroke-dasharray="4.9 4.16"/>
<polygon points="311.5,321.1 315.6,336.6 307.4,336.6" fill="#7a7a7a"/>
<text x="362.69" y="315.90" font-size="28" font-weight="bold" textLength="16.49" lengthAdjust="spacingAndGlyphs" >d</text>
<rect x="416.4" y="307.9" width="267.60" height="213.80" fill="none" stroke="#1b1b1b" stroke-width="1.8"/>
<line x1="411.50" y1="521.70" x2="416.40" y2="521.70" stroke="#1b1b1b" stroke-width="1.6"/>
<text x="408.80" y="526.90" font-size="16.5" font-weight="bold" text-anchor="end" fill="#000" >0</text>
<line x1="411.50" y1="486.00" x2="416.40" y2="486.00" stroke="#1b1b1b" stroke-width="1.6"/>
<text x="408.80" y="491.20" font-size="16.5" font-weight="bold" text-anchor="end" fill="#000" >2</text>
<line x1="411.50" y1="450.30" x2="416.40" y2="450.30" stroke="#1b1b1b" stroke-width="1.6"/>
<text x="408.80" y="455.50" font-size="16.5" font-weight="bold" text-anchor="end" fill="#000" >4</text>
<line x1="411.50" y1="414.60" x2="416.40" y2="414.60" stroke="#1b1b1b" stroke-width="1.6"/>
<text x="408.80" y="419.80" font-size="16.5" font-weight="bold" text-anchor="end" fill="#000" >6</text>
<line x1="411.50" y1="378.90" x2="416.40" y2="378.90" stroke="#1b1b1b" stroke-width="1.6"/>
<text x="408.80" y="384.10" font-size="16.5" font-weight="bold" text-anchor="end" fill="#000" >8</text>
<line x1="411.50" y1="343.20" x2="416.40" y2="343.20" stroke="#1b1b1b" stroke-width="1.6"/>
<text x="408.80" y="348.40" font-size="16.5" font-weight="bold" text-anchor="end" fill="#000" >10</text>
<line x1="439.90" y1="521.70" x2="439.90" y2="526.50" stroke="#1b1b1b" stroke-width="1.6"/>
<text x="439.90" y="542.20" font-size="16.5" font-weight="bold" text-anchor="middle" fill="#000" >0.01</text>
<line x1="485.10" y1="521.70" x2="485.10" y2="526.50" stroke="#1b1b1b" stroke-width="1.6"/>
<text x="485.10" y="542.20" font-size="16.5" font-weight="bold" text-anchor="middle" fill="#000" >0.1</text>
<line x1="530.30" y1="521.70" x2="530.30" y2="526.50" stroke="#1b1b1b" stroke-width="1.6"/>
<text x="530.30" y="542.20" font-size="16.5" font-weight="bold" text-anchor="middle" fill="#000" >1</text>
<line x1="575.50" y1="521.70" x2="575.50" y2="526.50" stroke="#1b1b1b" stroke-width="1.6"/>
<text x="575.50" y="542.20" font-size="16.5" font-weight="bold" text-anchor="middle" fill="#000" >10</text>
<line x1="620.70" y1="521.70" x2="620.70" y2="526.50" stroke="#1b1b1b" stroke-width="1.6"/>
<text x="620.70" y="542.20" font-size="16.5" font-weight="bold" text-anchor="middle" fill="#000" >100</text>
<line x1="665.90" y1="521.70" x2="665.90" y2="526.50" stroke="#1b1b1b" stroke-width="1.6"/>
<text x="665.90" y="542.20" font-size="16.5" font-weight="bold" text-anchor="middle" fill="#000" >1000</text>
<text x="448.87" y="569.60" font-size="22.6" font-weight="bold" textLength="202.47" lengthAdjust="spacingAndGlyphs" >Concentration(μM)</text>
<line x1="439.90" y1="500.28" x2="665.90" y2="333.38" stroke="#000" stroke-width="2.2" stroke-dasharray="4.8 4.3" stroke-dashoffset="0.6"/>
<circle cx="439.90" cy="498.32" r="5.10" fill="#000"/><ellipse cx="439.90" cy="496.52" rx="1.6" ry="0.55" fill="#e0e0e0"/>
<circle cx="485.10" cy="465.12" r="5.10" fill="#000"/><ellipse cx="485.10" cy="463.32" rx="1.6" ry="0.55" fill="#e0e0e0"/>
<circle cx="530.30" cy="439.77" r="5.10" fill="#000"/><circle cx="530.30" cy="439.77" r="2.3" fill="none" stroke="#c4c4c4" stroke-width="0.9"/><rect x="527.70" y="439.02" width="5.2" height="1.5" fill="#000"/>
<circle cx="575.50" cy="398.00" r="5.10" fill="#000"/><circle cx="575.50" cy="398.00" r="2.3" fill="none" stroke="#c4c4c4" stroke-width="0.9"/><rect x="572.90" y="397.25" width="5.2" height="1.5" fill="#000"/>
<circle cx="620.70" cy="370.69" r="5.10" fill="#000"/><circle cx="620.70" cy="370.69" r="2.3" fill="none" stroke="#c4c4c4" stroke-width="0.9"/><rect x="618.10" y="369.94" width="5.2" height="1.5" fill="#000"/>
<circle cx="665.90" cy="328.56" r="5.10" fill="#000"/><circle cx="665.90" cy="328.56" r="2.3" fill="none" stroke="#c4c4c4" stroke-width="0.9"/><rect x="663.30" y="327.81" width="5.2" height="1.5" fill="#000"/>
<text x="442.22" y="370.60" font-size="18" font-weight="bold" textLength="10.84" lengthAdjust="spacingAndGlyphs" >Y</text>
<rect x="459.50" y="363.00" width="8.90" height="1.9" fill="#000"/><rect x="459.50" y="366.95" width="8.90" height="1.9" fill="#000"/>
<text x="474.68" y="370.60" font-size="18" font-weight="bold" textLength="46.27" lengthAdjust="spacingAndGlyphs" >1.87X</text>
<rect x="528.3" y="365.35" width="8.4" height="1.9" fill="#000"/>
<rect x="531.55" y="362.1" width="1.9" height="8.4" fill="#000"/>
<text x="543.34" y="370.60" font-size="18" font-weight="bold" textLength="33.76" lengthAdjust="spacingAndGlyphs" >4.94</text>
<text x="441.74" y="395.80" font-size="18" font-weight="bold" textLength="11.49" lengthAdjust="spacingAndGlyphs" >R</text>
<text x="454.50" y="387.10" font-size="11" font-weight="normal" textLength="5.49" lengthAdjust="spacingAndGlyphs" >2</text>
<rect x="466.60" y="388.20" width="8.90" height="1.9" fill="#000"/><rect x="466.60" y="392.15" width="8.90" height="1.9" fill="#000"/>
<text x="481.18" y="395.80" font-size="18" font-weight="bold" textLength="45.42" lengthAdjust="spacingAndGlyphs" >0.995</text>
<g transform="translate(375.9,445.1) rotate(-90)"><text x="-0.9" y="0" font-size="17.5" font-weight="normal">(</text><text x="5.0" y="0" font-size="24" font-weight="bold">I</text><text x="11.56" y="0" font-size="24" font-weight="bold">-</text><text x="19.7" y="0" font-size="24" font-weight="bold">I</text><text x="26.53" y="8.80" font-size="14" font-weight="bold" textLength="8.07" lengthAdjust="spacingAndGlyphs" >0</text><text x="35.3" y="0" font-size="17.5" font-weight="normal">)</text><text x="40.57" y="0" font-size="24" font-weight="bold">/</text><text x="47.7" y="0" font-size="24" font-weight="bold">I</text><text x="54.58" y="8.80" font-size="14" font-weight="bold" textLength="7.37" lengthAdjust="spacingAndGlyphs" >0</text></g>
</svg>
</body></html>
